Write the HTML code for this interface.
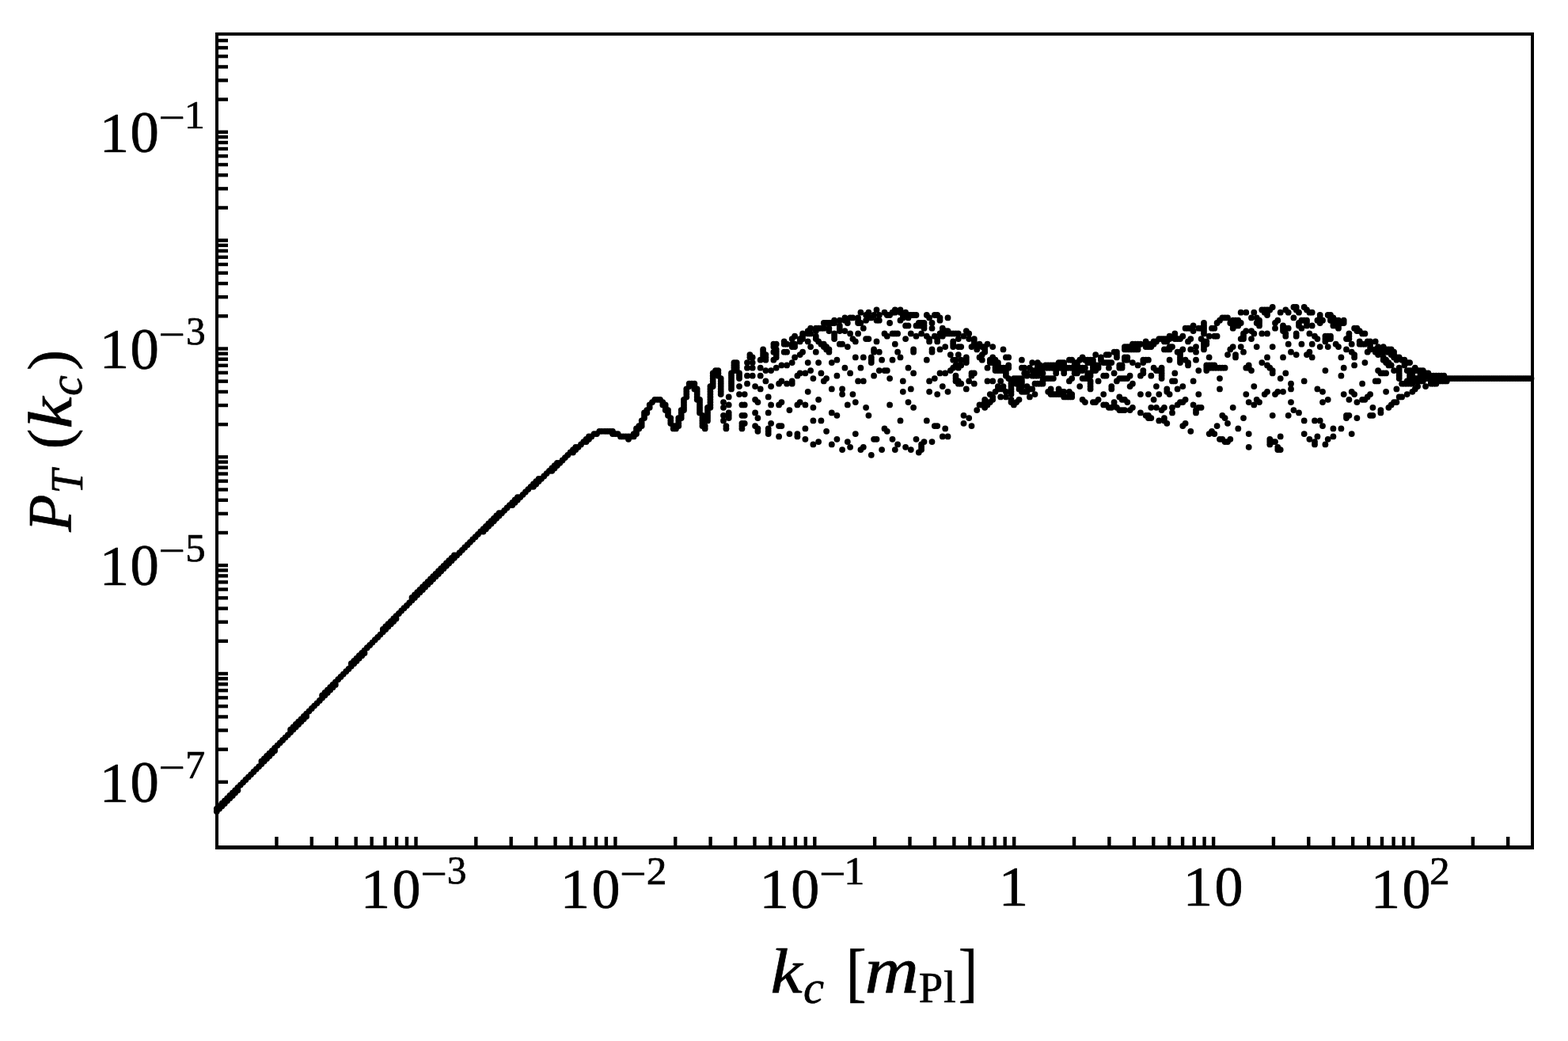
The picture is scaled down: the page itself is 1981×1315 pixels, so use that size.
<!DOCTYPE html>
<html lang="en"><head><meta charset="utf-8"><title>Tensor power spectrum</title>
<style>html,body{margin:0;padding:0;background:#fff}svg{display:block}text{font-family:"Liberation Serif",serif;fill:#000;stroke:#000;stroke-width:0.7px;stroke-linejoin:round}</style></head>
<body><svg xmlns="http://www.w3.org/2000/svg" width="1981" height="1315" viewBox="0 0 1981 1315">
<rect width="1981" height="1315" fill="#fff"/>
<g id="data" fill="#000" stroke="none">
<circle cx="273.8" cy="1021.6" r="3.9"/>
<circle cx="273.8" cy="1025.0" r="3.9"/>
<circle cx="277.1" cy="1018.3" r="3.9"/>
<circle cx="277.1" cy="1021.6" r="3.9"/>
<circle cx="280.4" cy="1015.0" r="3.9"/>
<circle cx="280.4" cy="1018.3" r="3.9"/>
<circle cx="283.8" cy="1011.6" r="3.9"/>
<circle cx="283.8" cy="1015.0" r="3.9"/>
<circle cx="287.1" cy="1008.3" r="3.9"/>
<circle cx="287.1" cy="1011.6" r="3.9"/>
<circle cx="290.4" cy="1005.0" r="3.9"/>
<circle cx="290.4" cy="1008.3" r="3.9"/>
<circle cx="293.8" cy="1001.6" r="3.9"/>
<circle cx="293.8" cy="1005.0" r="3.9"/>
<circle cx="297.1" cy="998.3" r="3.9"/>
<circle cx="297.1" cy="1001.6" r="3.9"/>
<circle cx="300.4" cy="995.0" r="3.9"/>
<circle cx="300.4" cy="998.3" r="3.9"/>
<circle cx="303.8" cy="991.6" r="3.9"/>
<circle cx="307.1" cy="988.3" r="3.9"/>
<circle cx="310.4" cy="985.0" r="3.9"/>
<circle cx="313.8" cy="981.6" r="3.9"/>
<circle cx="317.1" cy="978.3" r="3.9"/>
<circle cx="320.4" cy="975.0" r="3.9"/>
<circle cx="323.8" cy="971.6" r="3.9"/>
<circle cx="327.1" cy="968.3" r="3.9"/>
<circle cx="330.4" cy="961.6" r="3.9"/>
<circle cx="330.4" cy="965.0" r="3.9"/>
<circle cx="333.8" cy="958.3" r="3.9"/>
<circle cx="333.8" cy="961.6" r="3.9"/>
<circle cx="337.1" cy="955.0" r="3.9"/>
<circle cx="337.1" cy="958.3" r="3.9"/>
<circle cx="340.4" cy="951.6" r="3.9"/>
<circle cx="340.4" cy="955.0" r="3.9"/>
<circle cx="343.8" cy="948.3" r="3.9"/>
<circle cx="343.8" cy="951.6" r="3.9"/>
<circle cx="347.1" cy="944.9" r="3.9"/>
<circle cx="347.1" cy="948.3" r="3.9"/>
<circle cx="350.5" cy="941.6" r="3.9"/>
<circle cx="353.8" cy="938.3" r="3.9"/>
<circle cx="357.1" cy="934.9" r="3.9"/>
<circle cx="360.5" cy="931.6" r="3.9"/>
<circle cx="363.8" cy="928.3" r="3.9"/>
<circle cx="367.1" cy="921.6" r="3.9"/>
<circle cx="367.1" cy="924.9" r="3.9"/>
<circle cx="370.5" cy="918.3" r="3.9"/>
<circle cx="370.5" cy="921.6" r="3.9"/>
<circle cx="373.8" cy="914.9" r="3.9"/>
<circle cx="373.8" cy="918.3" r="3.9"/>
<circle cx="377.1" cy="911.6" r="3.9"/>
<circle cx="377.1" cy="914.9" r="3.9"/>
<circle cx="380.5" cy="908.3" r="3.9"/>
<circle cx="380.5" cy="911.6" r="3.9"/>
<circle cx="383.8" cy="904.9" r="3.9"/>
<circle cx="383.8" cy="908.3" r="3.9"/>
<circle cx="387.1" cy="901.6" r="3.9"/>
<circle cx="387.1" cy="904.9" r="3.9"/>
<circle cx="390.5" cy="898.3" r="3.9"/>
<circle cx="393.8" cy="894.9" r="3.9"/>
<circle cx="397.1" cy="891.6" r="3.9"/>
<circle cx="400.5" cy="888.3" r="3.9"/>
<circle cx="403.8" cy="884.9" r="3.9"/>
<circle cx="407.1" cy="878.3" r="3.9"/>
<circle cx="407.1" cy="881.6" r="3.9"/>
<circle cx="410.5" cy="874.9" r="3.9"/>
<circle cx="410.5" cy="878.3" r="3.9"/>
<circle cx="413.8" cy="871.6" r="3.9"/>
<circle cx="413.8" cy="874.9" r="3.9"/>
<circle cx="417.2" cy="868.2" r="3.9"/>
<circle cx="417.2" cy="871.6" r="3.9"/>
<circle cx="420.5" cy="864.9" r="3.9"/>
<circle cx="420.5" cy="868.2" r="3.9"/>
<circle cx="423.8" cy="861.6" r="3.9"/>
<circle cx="423.8" cy="864.9" r="3.9"/>
<circle cx="427.2" cy="858.2" r="3.9"/>
<circle cx="430.5" cy="854.9" r="3.9"/>
<circle cx="433.8" cy="851.6" r="3.9"/>
<circle cx="437.2" cy="848.2" r="3.9"/>
<circle cx="440.5" cy="844.9" r="3.9"/>
<circle cx="443.8" cy="838.2" r="3.9"/>
<circle cx="443.8" cy="841.6" r="3.9"/>
<circle cx="447.2" cy="834.9" r="3.9"/>
<circle cx="447.2" cy="838.2" r="3.9"/>
<circle cx="450.5" cy="831.6" r="3.9"/>
<circle cx="450.5" cy="834.9" r="3.9"/>
<circle cx="453.8" cy="828.2" r="3.9"/>
<circle cx="453.8" cy="831.6" r="3.9"/>
<circle cx="457.2" cy="824.9" r="3.9"/>
<circle cx="457.2" cy="828.2" r="3.9"/>
<circle cx="460.5" cy="821.6" r="3.9"/>
<circle cx="460.5" cy="824.9" r="3.9"/>
<circle cx="463.8" cy="818.2" r="3.9"/>
<circle cx="467.2" cy="814.9" r="3.9"/>
<circle cx="470.5" cy="811.6" r="3.9"/>
<circle cx="473.8" cy="808.2" r="3.9"/>
<circle cx="477.2" cy="804.9" r="3.9"/>
<circle cx="480.5" cy="801.6" r="3.9"/>
<circle cx="483.8" cy="794.9" r="3.9"/>
<circle cx="483.8" cy="798.2" r="3.9"/>
<circle cx="487.2" cy="791.5" r="3.9"/>
<circle cx="487.2" cy="794.9" r="3.9"/>
<circle cx="490.5" cy="788.2" r="3.9"/>
<circle cx="490.5" cy="791.5" r="3.9"/>
<circle cx="493.9" cy="784.9" r="3.9"/>
<circle cx="493.9" cy="788.2" r="3.9"/>
<circle cx="497.2" cy="781.5" r="3.9"/>
<circle cx="497.2" cy="784.9" r="3.9"/>
<circle cx="500.5" cy="778.2" r="3.9"/>
<circle cx="500.5" cy="781.5" r="3.9"/>
<circle cx="503.9" cy="774.9" r="3.9"/>
<circle cx="507.2" cy="771.5" r="3.9"/>
<circle cx="510.5" cy="768.2" r="3.9"/>
<circle cx="513.9" cy="764.9" r="3.9"/>
<circle cx="517.2" cy="761.5" r="3.9"/>
<circle cx="520.5" cy="754.9" r="3.9"/>
<circle cx="520.5" cy="758.2" r="3.9"/>
<circle cx="523.9" cy="751.5" r="3.9"/>
<circle cx="523.9" cy="754.9" r="3.9"/>
<circle cx="527.2" cy="748.2" r="3.9"/>
<circle cx="527.2" cy="751.5" r="3.9"/>
<circle cx="530.5" cy="744.9" r="3.9"/>
<circle cx="530.5" cy="748.2" r="3.9"/>
<circle cx="533.9" cy="741.5" r="3.9"/>
<circle cx="533.9" cy="744.9" r="3.9"/>
<circle cx="537.2" cy="738.2" r="3.9"/>
<circle cx="537.2" cy="741.5" r="3.9"/>
<circle cx="540.5" cy="734.9" r="3.9"/>
<circle cx="540.5" cy="738.2" r="3.9"/>
<circle cx="543.9" cy="731.5" r="3.9"/>
<circle cx="543.9" cy="734.9" r="3.9"/>
<circle cx="547.2" cy="728.2" r="3.9"/>
<circle cx="547.2" cy="731.5" r="3.9"/>
<circle cx="550.5" cy="724.9" r="3.9"/>
<circle cx="550.5" cy="728.2" r="3.9"/>
<circle cx="553.9" cy="721.5" r="3.9"/>
<circle cx="553.9" cy="724.9" r="3.9"/>
<circle cx="557.2" cy="718.2" r="3.9"/>
<circle cx="557.2" cy="721.5" r="3.9"/>
<circle cx="560.5" cy="714.8" r="3.9"/>
<circle cx="560.5" cy="718.2" r="3.9"/>
<circle cx="563.9" cy="711.5" r="3.9"/>
<circle cx="563.9" cy="714.8" r="3.9"/>
<circle cx="567.2" cy="708.2" r="3.9"/>
<circle cx="567.2" cy="711.5" r="3.9"/>
<circle cx="570.6" cy="704.8" r="3.9"/>
<circle cx="570.6" cy="708.2" r="3.9"/>
<circle cx="573.9" cy="701.5" r="3.9"/>
<circle cx="573.9" cy="704.8" r="3.9"/>
<circle cx="577.2" cy="701.5" r="3.9"/>
<circle cx="580.6" cy="698.2" r="3.9"/>
<circle cx="583.9" cy="694.8" r="3.9"/>
<circle cx="587.2" cy="691.5" r="3.9"/>
<circle cx="590.6" cy="688.2" r="3.9"/>
<circle cx="593.9" cy="684.8" r="3.9"/>
<circle cx="597.2" cy="681.5" r="3.9"/>
<circle cx="600.6" cy="678.2" r="3.9"/>
<circle cx="603.9" cy="674.8" r="3.9"/>
<circle cx="607.2" cy="671.5" r="3.9"/>
<circle cx="610.6" cy="668.2" r="3.9"/>
<circle cx="610.6" cy="671.5" r="3.9"/>
<circle cx="613.9" cy="664.8" r="3.9"/>
<circle cx="613.9" cy="668.2" r="3.9"/>
<circle cx="617.2" cy="661.5" r="3.9"/>
<circle cx="617.2" cy="664.8" r="3.9"/>
<circle cx="620.6" cy="658.2" r="3.9"/>
<circle cx="620.6" cy="661.5" r="3.9"/>
<circle cx="623.9" cy="654.8" r="3.9"/>
<circle cx="623.9" cy="658.2" r="3.9"/>
<circle cx="627.2" cy="651.5" r="3.9"/>
<circle cx="627.2" cy="654.8" r="3.9"/>
<circle cx="630.6" cy="648.2" r="3.9"/>
<circle cx="630.6" cy="651.5" r="3.9"/>
<circle cx="633.9" cy="648.2" r="3.9"/>
<circle cx="637.2" cy="644.8" r="3.9"/>
<circle cx="640.6" cy="641.5" r="3.9"/>
<circle cx="643.9" cy="638.1" r="3.9"/>
<circle cx="647.3" cy="634.8" r="3.9"/>
<circle cx="647.3" cy="638.1" r="3.9"/>
<circle cx="650.6" cy="631.5" r="3.9"/>
<circle cx="650.6" cy="634.8" r="3.9"/>
<circle cx="653.9" cy="628.1" r="3.9"/>
<circle cx="653.9" cy="631.5" r="3.9"/>
<circle cx="657.3" cy="628.1" r="3.9"/>
<circle cx="660.6" cy="624.8" r="3.9"/>
<circle cx="663.9" cy="621.5" r="3.9"/>
<circle cx="667.3" cy="618.1" r="3.9"/>
<circle cx="670.6" cy="614.8" r="3.9"/>
<circle cx="673.9" cy="611.5" r="3.9"/>
<circle cx="673.9" cy="614.8" r="3.9"/>
<circle cx="677.3" cy="608.1" r="3.9"/>
<circle cx="677.3" cy="611.5" r="3.9"/>
<circle cx="680.6" cy="604.8" r="3.9"/>
<circle cx="680.6" cy="608.1" r="3.9"/>
<circle cx="683.9" cy="604.8" r="3.9"/>
<circle cx="687.3" cy="601.5" r="3.9"/>
<circle cx="690.6" cy="598.1" r="3.9"/>
<circle cx="693.9" cy="594.8" r="3.9"/>
<circle cx="697.3" cy="591.5" r="3.9"/>
<circle cx="697.3" cy="594.8" r="3.9"/>
<circle cx="700.6" cy="588.1" r="3.9"/>
<circle cx="700.6" cy="591.5" r="3.9"/>
<circle cx="703.9" cy="584.8" r="3.9"/>
<circle cx="703.9" cy="588.1" r="3.9"/>
<circle cx="707.3" cy="584.8" r="3.9"/>
<circle cx="710.6" cy="581.5" r="3.9"/>
<circle cx="713.9" cy="578.1" r="3.9"/>
<circle cx="717.3" cy="574.8" r="3.9"/>
<circle cx="720.6" cy="571.5" r="3.9"/>
<circle cx="724.0" cy="568.1" r="3.9"/>
<circle cx="724.0" cy="571.5" r="3.9"/>
<circle cx="727.3" cy="564.8" r="3.9"/>
<circle cx="727.3" cy="568.1" r="3.9"/>
<circle cx="730.6" cy="564.8" r="3.9"/>
<circle cx="734.0" cy="561.4" r="3.9"/>
<circle cx="737.3" cy="558.1" r="3.9"/>
<circle cx="740.6" cy="554.8" r="3.9"/>
<circle cx="740.6" cy="558.1" r="3.9"/>
<circle cx="744.0" cy="551.4" r="3.9"/>
<circle cx="744.0" cy="554.8" r="3.9"/>
<circle cx="747.3" cy="551.4" r="3.9"/>
<circle cx="750.6" cy="548.1" r="3.9"/>
<circle cx="754.0" cy="548.1" r="3.9"/>
<circle cx="757.3" cy="544.8" r="3.9"/>
<circle cx="760.6" cy="544.8" r="3.9"/>
<circle cx="764.0" cy="544.8" r="3.9"/>
<circle cx="767.3" cy="544.8" r="3.9"/>
<circle cx="770.6" cy="544.8" r="3.9"/>
<circle cx="774.0" cy="544.8" r="3.9"/>
<circle cx="774.0" cy="548.1" r="3.9"/>
<circle cx="777.3" cy="548.1" r="3.9"/>
<circle cx="780.6" cy="548.1" r="3.9"/>
<circle cx="784.0" cy="551.4" r="3.9"/>
<circle cx="787.3" cy="551.4" r="3.9"/>
<circle cx="790.6" cy="551.4" r="3.9"/>
<circle cx="794.0" cy="551.4" r="3.9"/>
<circle cx="794.0" cy="554.8" r="3.9"/>
<circle cx="797.3" cy="551.4" r="3.9"/>
<circle cx="800.7" cy="548.1" r="3.9"/>
<circle cx="800.7" cy="551.4" r="3.9"/>
<circle cx="804.0" cy="541.4" r="3.9"/>
<circle cx="804.0" cy="544.8" r="3.9"/>
<circle cx="804.0" cy="548.1" r="3.9"/>
<circle cx="807.3" cy="538.1" r="3.9"/>
<circle cx="807.3" cy="541.4" r="3.9"/>
<circle cx="810.7" cy="531.4" r="3.9"/>
<circle cx="810.7" cy="534.8" r="3.9"/>
<circle cx="810.7" cy="538.1" r="3.9"/>
<circle cx="814.0" cy="521.4" r="3.9"/>
<circle cx="814.0" cy="524.8" r="3.9"/>
<circle cx="814.0" cy="528.1" r="3.9"/>
<circle cx="817.3" cy="518.1" r="3.9"/>
<circle cx="817.3" cy="521.4" r="3.9"/>
<circle cx="820.7" cy="511.4" r="3.9"/>
<circle cx="820.7" cy="514.8" r="3.9"/>
<circle cx="824.0" cy="508.1" r="3.9"/>
<circle cx="827.3" cy="504.8" r="3.9"/>
<circle cx="830.7" cy="504.8" r="3.9"/>
<circle cx="834.0" cy="504.8" r="3.9"/>
<circle cx="837.3" cy="508.1" r="3.9"/>
<circle cx="837.3" cy="511.4" r="3.9"/>
<circle cx="840.7" cy="511.4" r="3.9"/>
<circle cx="840.7" cy="514.8" r="3.9"/>
<circle cx="840.7" cy="518.1" r="3.9"/>
<circle cx="844.0" cy="518.1" r="3.9"/>
<circle cx="844.0" cy="521.4" r="3.9"/>
<circle cx="844.0" cy="524.8" r="3.9"/>
<circle cx="847.3" cy="528.1" r="3.9"/>
<circle cx="847.3" cy="531.4" r="3.9"/>
<circle cx="847.3" cy="534.8" r="3.9"/>
<circle cx="850.7" cy="538.1" r="3.9"/>
<circle cx="850.7" cy="541.4" r="3.9"/>
<circle cx="854.0" cy="538.1" r="3.9"/>
<circle cx="854.0" cy="541.4" r="3.9"/>
<circle cx="857.3" cy="528.1" r="3.9"/>
<circle cx="857.3" cy="531.4" r="3.9"/>
<circle cx="857.3" cy="534.8" r="3.9"/>
<circle cx="857.3" cy="538.1" r="3.9"/>
<circle cx="860.7" cy="518.1" r="3.9"/>
<circle cx="860.7" cy="521.4" r="3.9"/>
<circle cx="860.7" cy="524.8" r="3.9"/>
<circle cx="860.7" cy="528.1" r="3.9"/>
<circle cx="864.0" cy="504.8" r="3.9"/>
<circle cx="864.0" cy="508.1" r="3.9"/>
<circle cx="864.0" cy="511.4" r="3.9"/>
<circle cx="864.0" cy="514.8" r="3.9"/>
<circle cx="864.0" cy="518.1" r="3.9"/>
<circle cx="867.3" cy="491.4" r="3.9"/>
<circle cx="867.3" cy="494.8" r="3.9"/>
<circle cx="867.3" cy="498.1" r="3.9"/>
<circle cx="867.3" cy="501.4" r="3.9"/>
<circle cx="870.7" cy="484.7" r="3.9"/>
<circle cx="870.7" cy="488.1" r="3.9"/>
<circle cx="874.0" cy="484.7" r="3.9"/>
<circle cx="877.4" cy="484.7" r="3.9"/>
<circle cx="877.4" cy="488.1" r="3.9"/>
<circle cx="877.4" cy="491.4" r="3.9"/>
<circle cx="880.7" cy="491.4" r="3.9"/>
<circle cx="880.7" cy="494.8" r="3.9"/>
<circle cx="880.7" cy="498.1" r="3.9"/>
<circle cx="880.7" cy="501.4" r="3.9"/>
<circle cx="880.7" cy="504.8" r="3.9"/>
<circle cx="884.0" cy="504.8" r="3.9"/>
<circle cx="884.0" cy="508.1" r="3.9"/>
<circle cx="884.0" cy="511.4" r="3.9"/>
<circle cx="884.0" cy="514.8" r="3.9"/>
<circle cx="884.0" cy="518.1" r="3.9"/>
<circle cx="884.0" cy="521.4" r="3.9"/>
<circle cx="887.4" cy="524.8" r="3.9"/>
<circle cx="887.4" cy="528.1" r="3.9"/>
<circle cx="887.4" cy="531.4" r="3.9"/>
<circle cx="887.4" cy="534.8" r="3.9"/>
<circle cx="887.4" cy="538.1" r="3.9"/>
<circle cx="890.7" cy="538.1" r="3.9"/>
<circle cx="890.7" cy="541.4" r="3.9"/>
<circle cx="894.0" cy="514.8" r="3.9"/>
<circle cx="894.0" cy="518.1" r="3.9"/>
<circle cx="894.0" cy="521.4" r="3.9"/>
<circle cx="894.0" cy="524.8" r="3.9"/>
<circle cx="894.0" cy="528.1" r="3.9"/>
<circle cx="894.0" cy="531.4" r="3.9"/>
<circle cx="897.4" cy="488.1" r="3.9"/>
<circle cx="897.4" cy="491.4" r="3.9"/>
<circle cx="897.4" cy="494.8" r="3.9"/>
<circle cx="897.4" cy="498.1" r="3.9"/>
<circle cx="897.4" cy="501.4" r="3.9"/>
<circle cx="897.4" cy="504.8" r="3.9"/>
<circle cx="897.4" cy="508.1" r="3.9"/>
<circle cx="897.4" cy="511.4" r="3.9"/>
<circle cx="897.4" cy="514.8" r="3.9"/>
<circle cx="900.7" cy="471.4" r="3.9"/>
<circle cx="900.7" cy="474.7" r="3.9"/>
<circle cx="900.7" cy="478.1" r="3.9"/>
<circle cx="900.7" cy="481.4" r="3.9"/>
<circle cx="900.7" cy="484.7" r="3.9"/>
<circle cx="900.7" cy="488.1" r="3.9"/>
<circle cx="904.0" cy="468.1" r="3.9"/>
<circle cx="904.0" cy="471.4" r="3.9"/>
<circle cx="907.4" cy="468.1" r="3.9"/>
<circle cx="907.4" cy="471.4" r="3.9"/>
<circle cx="907.4" cy="474.7" r="3.9"/>
<circle cx="910.7" cy="478.1" r="3.9"/>
<circle cx="910.7" cy="481.4" r="3.9"/>
<circle cx="910.7" cy="484.7" r="3.9"/>
<circle cx="910.7" cy="488.1" r="3.9"/>
<circle cx="910.7" cy="491.4" r="3.9"/>
<circle cx="910.7" cy="494.8" r="3.9"/>
<circle cx="910.7" cy="498.1" r="3.9"/>
<circle cx="914.0" cy="508.1" r="3.9"/>
<circle cx="914.0" cy="514.8" r="3.9"/>
<circle cx="914.0" cy="524.8" r="3.9"/>
<circle cx="914.0" cy="531.4" r="3.9"/>
<circle cx="917.4" cy="538.1" r="3.9"/>
<circle cx="917.4" cy="541.4" r="3.9"/>
<circle cx="920.7" cy="501.4" r="3.9"/>
<circle cx="920.7" cy="511.4" r="3.9"/>
<circle cx="920.7" cy="521.4" r="3.9"/>
<circle cx="920.7" cy="524.8" r="3.9"/>
<circle cx="920.7" cy="528.1" r="3.9"/>
<circle cx="924.0" cy="471.4" r="3.9"/>
<circle cx="924.0" cy="474.7" r="3.9"/>
<circle cx="924.0" cy="478.1" r="3.9"/>
<circle cx="924.0" cy="481.4" r="3.9"/>
<circle cx="924.0" cy="484.7" r="3.9"/>
<circle cx="924.0" cy="488.1" r="3.9"/>
<circle cx="924.0" cy="491.4" r="3.9"/>
<circle cx="927.4" cy="458.1" r="3.9"/>
<circle cx="927.4" cy="461.4" r="3.9"/>
<circle cx="927.4" cy="464.7" r="3.9"/>
<circle cx="927.4" cy="468.1" r="3.9"/>
<circle cx="930.7" cy="458.1" r="3.9"/>
<circle cx="930.7" cy="461.4" r="3.9"/>
<circle cx="930.7" cy="464.7" r="3.9"/>
<circle cx="930.7" cy="468.1" r="3.9"/>
<circle cx="934.0" cy="471.4" r="3.9"/>
<circle cx="934.0" cy="474.7" r="3.9"/>
<circle cx="934.0" cy="478.1" r="3.9"/>
<circle cx="934.0" cy="488.1" r="3.9"/>
<circle cx="934.0" cy="498.1" r="3.9"/>
<circle cx="937.4" cy="511.4" r="3.9"/>
<circle cx="937.4" cy="524.8" r="3.9"/>
<circle cx="937.4" cy="534.8" r="3.9"/>
<circle cx="937.4" cy="538.1" r="3.9"/>
<circle cx="937.4" cy="541.4" r="3.9"/>
<circle cx="940.7" cy="498.1" r="3.9"/>
<circle cx="940.7" cy="511.4" r="3.9"/>
<circle cx="940.7" cy="524.8" r="3.9"/>
<circle cx="940.7" cy="534.8" r="3.9"/>
<circle cx="944.0" cy="458.1" r="3.9"/>
<circle cx="944.0" cy="464.7" r="3.9"/>
<circle cx="944.0" cy="474.7" r="3.9"/>
<circle cx="944.0" cy="484.7" r="3.9"/>
<circle cx="947.4" cy="448.1" r="3.9"/>
<circle cx="947.4" cy="451.4" r="3.9"/>
<circle cx="950.7" cy="451.4" r="3.9"/>
<circle cx="950.7" cy="458.1" r="3.9"/>
<circle cx="950.7" cy="464.7" r="3.9"/>
<circle cx="950.7" cy="474.7" r="3.9"/>
<circle cx="954.1" cy="488.1" r="3.9"/>
<circle cx="954.1" cy="504.8" r="3.9"/>
<circle cx="954.1" cy="521.4" r="3.9"/>
<circle cx="954.1" cy="538.1" r="3.9"/>
<circle cx="957.4" cy="508.1" r="3.9"/>
<circle cx="957.4" cy="528.1" r="3.9"/>
<circle cx="957.4" cy="541.4" r="3.9"/>
<circle cx="957.4" cy="544.8" r="3.9"/>
<circle cx="960.7" cy="454.7" r="3.9"/>
<circle cx="960.7" cy="464.7" r="3.9"/>
<circle cx="960.7" cy="474.7" r="3.9"/>
<circle cx="960.7" cy="491.4" r="3.9"/>
<circle cx="964.1" cy="441.4" r="3.9"/>
<circle cx="964.1" cy="444.7" r="3.9"/>
<circle cx="964.1" cy="448.1" r="3.9"/>
<circle cx="964.1" cy="451.4" r="3.9"/>
<circle cx="967.4" cy="448.1" r="3.9"/>
<circle cx="967.4" cy="451.4" r="3.9"/>
<circle cx="967.4" cy="454.7" r="3.9"/>
<circle cx="967.4" cy="468.1" r="3.9"/>
<circle cx="967.4" cy="481.4" r="3.9"/>
<circle cx="970.7" cy="501.4" r="3.9"/>
<circle cx="970.7" cy="521.4" r="3.9"/>
<circle cx="970.7" cy="541.4" r="3.9"/>
<circle cx="970.7" cy="544.8" r="3.9"/>
<circle cx="970.7" cy="548.1" r="3.9"/>
<circle cx="974.1" cy="468.1" r="3.9"/>
<circle cx="974.1" cy="488.1" r="3.9"/>
<circle cx="974.1" cy="511.4" r="3.9"/>
<circle cx="974.1" cy="534.8" r="3.9"/>
<circle cx="977.4" cy="434.7" r="3.9"/>
<circle cx="977.4" cy="438.1" r="3.9"/>
<circle cx="977.4" cy="444.7" r="3.9"/>
<circle cx="977.4" cy="454.7" r="3.9"/>
<circle cx="980.7" cy="434.7" r="3.9"/>
<circle cx="980.7" cy="441.4" r="3.9"/>
<circle cx="980.7" cy="444.7" r="3.9"/>
<circle cx="980.7" cy="448.1" r="3.9"/>
<circle cx="980.7" cy="451.4" r="3.9"/>
<circle cx="980.7" cy="464.7" r="3.9"/>
<circle cx="984.1" cy="484.7" r="3.9"/>
<circle cx="984.1" cy="511.4" r="3.9"/>
<circle cx="984.1" cy="538.1" r="3.9"/>
<circle cx="984.1" cy="551.4" r="3.9"/>
<circle cx="987.4" cy="461.4" r="3.9"/>
<circle cx="987.4" cy="481.4" r="3.9"/>
<circle cx="987.4" cy="508.1" r="3.9"/>
<circle cx="987.4" cy="538.1" r="3.9"/>
<circle cx="990.7" cy="431.4" r="3.9"/>
<circle cx="990.7" cy="434.7" r="3.9"/>
<circle cx="990.7" cy="444.7" r="3.9"/>
<circle cx="994.1" cy="434.7" r="3.9"/>
<circle cx="994.1" cy="444.7" r="3.9"/>
<circle cx="994.1" cy="461.4" r="3.9"/>
<circle cx="994.1" cy="484.7" r="3.9"/>
<circle cx="997.4" cy="518.1" r="3.9"/>
<circle cx="997.4" cy="548.1" r="3.9"/>
<circle cx="1000.7" cy="428.1" r="3.9"/>
<circle cx="1000.7" cy="434.7" r="3.9"/>
<circle cx="1000.7" cy="438.1" r="3.9"/>
<circle cx="1000.7" cy="458.1" r="3.9"/>
<circle cx="1000.7" cy="481.4" r="3.9"/>
<circle cx="1000.7" cy="484.7" r="3.9"/>
<circle cx="1004.1" cy="424.7" r="3.9"/>
<circle cx="1004.1" cy="434.7" r="3.9"/>
<circle cx="1004.1" cy="438.1" r="3.9"/>
<circle cx="1004.1" cy="451.4" r="3.9"/>
<circle cx="1007.4" cy="474.7" r="3.9"/>
<circle cx="1007.4" cy="511.4" r="3.9"/>
<circle cx="1007.4" cy="548.1" r="3.9"/>
<circle cx="1007.4" cy="551.4" r="3.9"/>
<circle cx="1010.7" cy="428.1" r="3.9"/>
<circle cx="1010.7" cy="431.4" r="3.9"/>
<circle cx="1010.7" cy="448.1" r="3.9"/>
<circle cx="1010.7" cy="471.4" r="3.9"/>
<circle cx="1010.7" cy="508.1" r="3.9"/>
<circle cx="1014.1" cy="421.4" r="3.9"/>
<circle cx="1014.1" cy="424.7" r="3.9"/>
<circle cx="1014.1" cy="428.1" r="3.9"/>
<circle cx="1014.1" cy="444.7" r="3.9"/>
<circle cx="1017.4" cy="471.4" r="3.9"/>
<circle cx="1017.4" cy="511.4" r="3.9"/>
<circle cx="1017.4" cy="541.4" r="3.9"/>
<circle cx="1017.4" cy="554.8" r="3.9"/>
<circle cx="1020.7" cy="418.1" r="3.9"/>
<circle cx="1020.7" cy="421.4" r="3.9"/>
<circle cx="1020.7" cy="431.4" r="3.9"/>
<circle cx="1020.7" cy="458.1" r="3.9"/>
<circle cx="1020.7" cy="494.8" r="3.9"/>
<circle cx="1024.1" cy="414.7" r="3.9"/>
<circle cx="1024.1" cy="421.4" r="3.9"/>
<circle cx="1024.1" cy="438.1" r="3.9"/>
<circle cx="1024.1" cy="468.1" r="3.9"/>
<circle cx="1027.4" cy="478.1" r="3.9"/>
<circle cx="1027.4" cy="514.8" r="3.9"/>
<circle cx="1027.4" cy="531.4" r="3.9"/>
<circle cx="1027.4" cy="561.4" r="3.9"/>
<circle cx="1030.8" cy="414.7" r="3.9"/>
<circle cx="1030.8" cy="418.1" r="3.9"/>
<circle cx="1030.8" cy="424.7" r="3.9"/>
<circle cx="1030.8" cy="428.1" r="3.9"/>
<circle cx="1030.8" cy="444.7" r="3.9"/>
<circle cx="1034.1" cy="414.7" r="3.9"/>
<circle cx="1034.1" cy="431.4" r="3.9"/>
<circle cx="1034.1" cy="458.1" r="3.9"/>
<circle cx="1034.1" cy="504.8" r="3.9"/>
<circle cx="1034.1" cy="558.1" r="3.9"/>
<circle cx="1037.4" cy="414.7" r="3.9"/>
<circle cx="1037.4" cy="434.7" r="3.9"/>
<circle cx="1037.4" cy="471.4" r="3.9"/>
<circle cx="1037.4" cy="531.4" r="3.9"/>
<circle cx="1040.8" cy="408.0" r="3.9"/>
<circle cx="1040.8" cy="414.7" r="3.9"/>
<circle cx="1040.8" cy="434.7" r="3.9"/>
<circle cx="1040.8" cy="438.1" r="3.9"/>
<circle cx="1040.8" cy="481.4" r="3.9"/>
<circle cx="1044.1" cy="408.0" r="3.9"/>
<circle cx="1044.1" cy="438.1" r="3.9"/>
<circle cx="1044.1" cy="441.4" r="3.9"/>
<circle cx="1044.1" cy="478.1" r="3.9"/>
<circle cx="1044.1" cy="544.8" r="3.9"/>
<circle cx="1047.4" cy="408.0" r="3.9"/>
<circle cx="1047.4" cy="414.7" r="3.9"/>
<circle cx="1047.4" cy="418.1" r="3.9"/>
<circle cx="1047.4" cy="441.4" r="3.9"/>
<circle cx="1047.4" cy="444.7" r="3.9"/>
<circle cx="1050.8" cy="408.0" r="3.9"/>
<circle cx="1050.8" cy="458.1" r="3.9"/>
<circle cx="1050.8" cy="491.4" r="3.9"/>
<circle cx="1050.8" cy="521.4" r="3.9"/>
<circle cx="1050.8" cy="561.4" r="3.9"/>
<circle cx="1054.1" cy="404.7" r="3.9"/>
<circle cx="1054.1" cy="408.0" r="3.9"/>
<circle cx="1054.1" cy="421.4" r="3.9"/>
<circle cx="1054.1" cy="424.7" r="3.9"/>
<circle cx="1054.1" cy="428.1" r="3.9"/>
<circle cx="1057.4" cy="454.7" r="3.9"/>
<circle cx="1057.4" cy="474.7" r="3.9"/>
<circle cx="1057.4" cy="524.8" r="3.9"/>
<circle cx="1057.4" cy="554.8" r="3.9"/>
<circle cx="1060.8" cy="404.7" r="3.9"/>
<circle cx="1060.8" cy="411.4" r="3.9"/>
<circle cx="1060.8" cy="414.7" r="3.9"/>
<circle cx="1060.8" cy="418.1" r="3.9"/>
<circle cx="1060.8" cy="434.7" r="3.9"/>
<circle cx="1064.1" cy="434.7" r="3.9"/>
<circle cx="1064.1" cy="491.4" r="3.9"/>
<circle cx="1064.1" cy="498.1" r="3.9"/>
<circle cx="1064.1" cy="568.1" r="3.9"/>
<circle cx="1067.4" cy="401.4" r="3.9"/>
<circle cx="1067.4" cy="404.7" r="3.9"/>
<circle cx="1067.4" cy="418.1" r="3.9"/>
<circle cx="1067.4" cy="464.7" r="3.9"/>
<circle cx="1070.8" cy="408.0" r="3.9"/>
<circle cx="1070.8" cy="438.1" r="3.9"/>
<circle cx="1070.8" cy="511.4" r="3.9"/>
<circle cx="1070.8" cy="558.1" r="3.9"/>
<circle cx="1074.1" cy="401.4" r="3.9"/>
<circle cx="1074.1" cy="421.4" r="3.9"/>
<circle cx="1074.1" cy="471.4" r="3.9"/>
<circle cx="1074.1" cy="564.8" r="3.9"/>
<circle cx="1077.4" cy="401.4" r="3.9"/>
<circle cx="1077.4" cy="428.1" r="3.9"/>
<circle cx="1077.4" cy="498.1" r="3.9"/>
<circle cx="1080.8" cy="431.4" r="3.9"/>
<circle cx="1080.8" cy="451.4" r="3.9"/>
<circle cx="1080.8" cy="508.1" r="3.9"/>
<circle cx="1080.8" cy="548.1" r="3.9"/>
<circle cx="1084.1" cy="401.4" r="3.9"/>
<circle cx="1084.1" cy="404.7" r="3.9"/>
<circle cx="1084.1" cy="408.0" r="3.9"/>
<circle cx="1084.1" cy="421.4" r="3.9"/>
<circle cx="1084.1" cy="481.4" r="3.9"/>
<circle cx="1087.4" cy="394.7" r="3.9"/>
<circle cx="1087.4" cy="408.0" r="3.9"/>
<circle cx="1087.4" cy="464.7" r="3.9"/>
<circle cx="1087.4" cy="568.1" r="3.9"/>
<circle cx="1090.8" cy="414.7" r="3.9"/>
<circle cx="1090.8" cy="451.4" r="3.9"/>
<circle cx="1090.8" cy="481.4" r="3.9"/>
<circle cx="1090.8" cy="564.8" r="3.9"/>
<circle cx="1094.1" cy="398.0" r="3.9"/>
<circle cx="1094.1" cy="404.7" r="3.9"/>
<circle cx="1094.1" cy="428.1" r="3.9"/>
<circle cx="1094.1" cy="514.8" r="3.9"/>
<circle cx="1097.4" cy="394.7" r="3.9"/>
<circle cx="1097.4" cy="401.4" r="3.9"/>
<circle cx="1097.4" cy="428.1" r="3.9"/>
<circle cx="1097.4" cy="524.8" r="3.9"/>
<circle cx="1100.8" cy="401.4" r="3.9"/>
<circle cx="1100.8" cy="451.4" r="3.9"/>
<circle cx="1100.8" cy="454.7" r="3.9"/>
<circle cx="1100.8" cy="458.1" r="3.9"/>
<circle cx="1100.8" cy="574.8" r="3.9"/>
<circle cx="1104.1" cy="398.0" r="3.9"/>
<circle cx="1104.1" cy="441.4" r="3.9"/>
<circle cx="1104.1" cy="444.7" r="3.9"/>
<circle cx="1104.1" cy="474.7" r="3.9"/>
<circle cx="1104.1" cy="554.8" r="3.9"/>
<circle cx="1107.5" cy="391.4" r="3.9"/>
<circle cx="1107.5" cy="404.7" r="3.9"/>
<circle cx="1107.5" cy="431.4" r="3.9"/>
<circle cx="1107.5" cy="554.8" r="3.9"/>
<circle cx="1110.8" cy="398.0" r="3.9"/>
<circle cx="1110.8" cy="404.7" r="3.9"/>
<circle cx="1110.8" cy="444.7" r="3.9"/>
<circle cx="1110.8" cy="468.1" r="3.9"/>
<circle cx="1114.1" cy="454.7" r="3.9"/>
<circle cx="1114.1" cy="568.1" r="3.9"/>
<circle cx="1117.5" cy="394.7" r="3.9"/>
<circle cx="1117.5" cy="421.4" r="3.9"/>
<circle cx="1117.5" cy="468.1" r="3.9"/>
<circle cx="1117.5" cy="541.4" r="3.9"/>
<circle cx="1120.8" cy="398.0" r="3.9"/>
<circle cx="1120.8" cy="424.7" r="3.9"/>
<circle cx="1120.8" cy="468.1" r="3.9"/>
<circle cx="1120.8" cy="544.8" r="3.9"/>
<circle cx="1124.1" cy="398.0" r="3.9"/>
<circle cx="1124.1" cy="408.0" r="3.9"/>
<circle cx="1124.1" cy="478.1" r="3.9"/>
<circle cx="1124.1" cy="511.4" r="3.9"/>
<circle cx="1127.5" cy="394.7" r="3.9"/>
<circle cx="1127.5" cy="421.4" r="3.9"/>
<circle cx="1127.5" cy="454.7" r="3.9"/>
<circle cx="1127.5" cy="554.8" r="3.9"/>
<circle cx="1130.8" cy="391.4" r="3.9"/>
<circle cx="1130.8" cy="394.7" r="3.9"/>
<circle cx="1130.8" cy="421.4" r="3.9"/>
<circle cx="1130.8" cy="434.7" r="3.9"/>
<circle cx="1130.8" cy="568.1" r="3.9"/>
<circle cx="1134.1" cy="421.4" r="3.9"/>
<circle cx="1134.1" cy="444.7" r="3.9"/>
<circle cx="1134.1" cy="561.4" r="3.9"/>
<circle cx="1137.5" cy="391.4" r="3.9"/>
<circle cx="1137.5" cy="394.7" r="3.9"/>
<circle cx="1137.5" cy="404.7" r="3.9"/>
<circle cx="1137.5" cy="451.4" r="3.9"/>
<circle cx="1137.5" cy="531.4" r="3.9"/>
<circle cx="1140.8" cy="398.0" r="3.9"/>
<circle cx="1140.8" cy="401.4" r="3.9"/>
<circle cx="1140.8" cy="481.4" r="3.9"/>
<circle cx="1140.8" cy="494.8" r="3.9"/>
<circle cx="1144.1" cy="394.7" r="3.9"/>
<circle cx="1144.1" cy="411.4" r="3.9"/>
<circle cx="1144.1" cy="428.1" r="3.9"/>
<circle cx="1144.1" cy="564.8" r="3.9"/>
<circle cx="1147.5" cy="398.0" r="3.9"/>
<circle cx="1147.5" cy="401.4" r="3.9"/>
<circle cx="1147.5" cy="411.4" r="3.9"/>
<circle cx="1147.5" cy="464.7" r="3.9"/>
<circle cx="1147.5" cy="508.1" r="3.9"/>
<circle cx="1150.8" cy="398.0" r="3.9"/>
<circle cx="1150.8" cy="421.4" r="3.9"/>
<circle cx="1150.8" cy="491.4" r="3.9"/>
<circle cx="1150.8" cy="568.1" r="3.9"/>
<circle cx="1154.1" cy="398.0" r="3.9"/>
<circle cx="1154.1" cy="441.4" r="3.9"/>
<circle cx="1154.1" cy="444.7" r="3.9"/>
<circle cx="1154.1" cy="471.4" r="3.9"/>
<circle cx="1154.1" cy="514.8" r="3.9"/>
<circle cx="1157.5" cy="398.0" r="3.9"/>
<circle cx="1157.5" cy="411.4" r="3.9"/>
<circle cx="1157.5" cy="424.7" r="3.9"/>
<circle cx="1157.5" cy="554.8" r="3.9"/>
<circle cx="1160.8" cy="408.0" r="3.9"/>
<circle cx="1160.8" cy="411.4" r="3.9"/>
<circle cx="1160.8" cy="571.5" r="3.9"/>
<circle cx="1164.1" cy="408.0" r="3.9"/>
<circle cx="1164.1" cy="411.4" r="3.9"/>
<circle cx="1164.1" cy="421.4" r="3.9"/>
<circle cx="1164.1" cy="561.4" r="3.9"/>
<circle cx="1164.1" cy="564.8" r="3.9"/>
<circle cx="1164.1" cy="568.1" r="3.9"/>
<circle cx="1167.5" cy="408.0" r="3.9"/>
<circle cx="1167.5" cy="411.4" r="3.9"/>
<circle cx="1167.5" cy="414.7" r="3.9"/>
<circle cx="1167.5" cy="558.1" r="3.9"/>
<circle cx="1170.8" cy="398.0" r="3.9"/>
<circle cx="1170.8" cy="424.7" r="3.9"/>
<circle cx="1170.8" cy="454.7" r="3.9"/>
<circle cx="1170.8" cy="531.4" r="3.9"/>
<circle cx="1174.1" cy="401.4" r="3.9"/>
<circle cx="1174.1" cy="428.1" r="3.9"/>
<circle cx="1174.1" cy="431.4" r="3.9"/>
<circle cx="1174.1" cy="481.4" r="3.9"/>
<circle cx="1174.1" cy="494.8" r="3.9"/>
<circle cx="1177.5" cy="408.0" r="3.9"/>
<circle cx="1177.5" cy="414.7" r="3.9"/>
<circle cx="1177.5" cy="441.4" r="3.9"/>
<circle cx="1177.5" cy="444.7" r="3.9"/>
<circle cx="1177.5" cy="558.1" r="3.9"/>
<circle cx="1180.8" cy="398.0" r="3.9"/>
<circle cx="1180.8" cy="424.7" r="3.9"/>
<circle cx="1180.8" cy="478.1" r="3.9"/>
<circle cx="1180.8" cy="538.1" r="3.9"/>
<circle cx="1184.2" cy="398.0" r="3.9"/>
<circle cx="1184.2" cy="428.1" r="3.9"/>
<circle cx="1184.2" cy="431.4" r="3.9"/>
<circle cx="1184.2" cy="498.1" r="3.9"/>
<circle cx="1184.2" cy="538.1" r="3.9"/>
<circle cx="1187.5" cy="401.4" r="3.9"/>
<circle cx="1187.5" cy="404.7" r="3.9"/>
<circle cx="1187.5" cy="421.4" r="3.9"/>
<circle cx="1187.5" cy="441.4" r="3.9"/>
<circle cx="1187.5" cy="471.4" r="3.9"/>
<circle cx="1190.8" cy="414.7" r="3.9"/>
<circle cx="1190.8" cy="418.1" r="3.9"/>
<circle cx="1190.8" cy="421.4" r="3.9"/>
<circle cx="1190.8" cy="424.7" r="3.9"/>
<circle cx="1190.8" cy="488.1" r="3.9"/>
<circle cx="1190.8" cy="551.4" r="3.9"/>
<circle cx="1194.2" cy="418.1" r="3.9"/>
<circle cx="1194.2" cy="421.4" r="3.9"/>
<circle cx="1194.2" cy="438.1" r="3.9"/>
<circle cx="1194.2" cy="471.4" r="3.9"/>
<circle cx="1194.2" cy="541.4" r="3.9"/>
<circle cx="1197.5" cy="401.4" r="3.9"/>
<circle cx="1197.5" cy="418.1" r="3.9"/>
<circle cx="1197.5" cy="421.4" r="3.9"/>
<circle cx="1197.5" cy="494.8" r="3.9"/>
<circle cx="1197.5" cy="551.4" r="3.9"/>
<circle cx="1200.8" cy="421.4" r="3.9"/>
<circle cx="1200.8" cy="448.1" r="3.9"/>
<circle cx="1200.8" cy="468.1" r="3.9"/>
<circle cx="1204.2" cy="421.4" r="3.9"/>
<circle cx="1204.2" cy="431.4" r="3.9"/>
<circle cx="1204.2" cy="434.7" r="3.9"/>
<circle cx="1204.2" cy="438.1" r="3.9"/>
<circle cx="1204.2" cy="454.7" r="3.9"/>
<circle cx="1204.2" cy="464.7" r="3.9"/>
<circle cx="1207.5" cy="421.4" r="3.9"/>
<circle cx="1207.5" cy="454.7" r="3.9"/>
<circle cx="1207.5" cy="461.4" r="3.9"/>
<circle cx="1207.5" cy="474.7" r="3.9"/>
<circle cx="1207.5" cy="478.1" r="3.9"/>
<circle cx="1207.5" cy="481.4" r="3.9"/>
<circle cx="1210.8" cy="421.4" r="3.9"/>
<circle cx="1210.8" cy="428.1" r="3.9"/>
<circle cx="1210.8" cy="438.1" r="3.9"/>
<circle cx="1210.8" cy="448.1" r="3.9"/>
<circle cx="1210.8" cy="461.4" r="3.9"/>
<circle cx="1210.8" cy="464.7" r="3.9"/>
<circle cx="1210.8" cy="481.4" r="3.9"/>
<circle cx="1210.8" cy="484.7" r="3.9"/>
<circle cx="1214.2" cy="438.1" r="3.9"/>
<circle cx="1214.2" cy="454.7" r="3.9"/>
<circle cx="1214.2" cy="461.4" r="3.9"/>
<circle cx="1214.2" cy="484.7" r="3.9"/>
<circle cx="1217.5" cy="424.7" r="3.9"/>
<circle cx="1217.5" cy="524.8" r="3.9"/>
<circle cx="1217.5" cy="534.8" r="3.9"/>
<circle cx="1220.8" cy="418.1" r="3.9"/>
<circle cx="1220.8" cy="451.4" r="3.9"/>
<circle cx="1220.8" cy="454.7" r="3.9"/>
<circle cx="1220.8" cy="458.1" r="3.9"/>
<circle cx="1220.8" cy="491.4" r="3.9"/>
<circle cx="1224.2" cy="421.4" r="3.9"/>
<circle cx="1224.2" cy="428.1" r="3.9"/>
<circle cx="1224.2" cy="481.4" r="3.9"/>
<circle cx="1224.2" cy="528.1" r="3.9"/>
<circle cx="1227.5" cy="438.1" r="3.9"/>
<circle cx="1227.5" cy="471.4" r="3.9"/>
<circle cx="1227.5" cy="474.7" r="3.9"/>
<circle cx="1227.5" cy="538.1" r="3.9"/>
<circle cx="1230.8" cy="428.1" r="3.9"/>
<circle cx="1230.8" cy="431.4" r="3.9"/>
<circle cx="1230.8" cy="434.7" r="3.9"/>
<circle cx="1230.8" cy="471.4" r="3.9"/>
<circle cx="1230.8" cy="484.7" r="3.9"/>
<circle cx="1234.2" cy="438.1" r="3.9"/>
<circle cx="1234.2" cy="441.4" r="3.9"/>
<circle cx="1234.2" cy="518.1" r="3.9"/>
<circle cx="1237.5" cy="434.7" r="3.9"/>
<circle cx="1237.5" cy="451.4" r="3.9"/>
<circle cx="1237.5" cy="511.4" r="3.9"/>
<circle cx="1240.8" cy="438.1" r="3.9"/>
<circle cx="1240.8" cy="448.1" r="3.9"/>
<circle cx="1240.8" cy="454.7" r="3.9"/>
<circle cx="1240.8" cy="511.4" r="3.9"/>
<circle cx="1244.2" cy="438.1" r="3.9"/>
<circle cx="1244.2" cy="441.4" r="3.9"/>
<circle cx="1244.2" cy="444.7" r="3.9"/>
<circle cx="1244.2" cy="504.8" r="3.9"/>
<circle cx="1244.2" cy="508.1" r="3.9"/>
<circle cx="1244.2" cy="511.4" r="3.9"/>
<circle cx="1244.2" cy="514.8" r="3.9"/>
<circle cx="1247.5" cy="434.7" r="3.9"/>
<circle cx="1247.5" cy="464.7" r="3.9"/>
<circle cx="1247.5" cy="481.4" r="3.9"/>
<circle cx="1247.5" cy="508.1" r="3.9"/>
<circle cx="1247.5" cy="511.4" r="3.9"/>
<circle cx="1250.8" cy="454.7" r="3.9"/>
<circle cx="1250.8" cy="458.1" r="3.9"/>
<circle cx="1250.8" cy="498.1" r="3.9"/>
<circle cx="1250.8" cy="508.1" r="3.9"/>
<circle cx="1254.2" cy="438.1" r="3.9"/>
<circle cx="1254.2" cy="451.4" r="3.9"/>
<circle cx="1254.2" cy="458.1" r="3.9"/>
<circle cx="1254.2" cy="481.4" r="3.9"/>
<circle cx="1254.2" cy="501.4" r="3.9"/>
<circle cx="1254.2" cy="504.8" r="3.9"/>
<circle cx="1257.5" cy="454.7" r="3.9"/>
<circle cx="1257.5" cy="461.4" r="3.9"/>
<circle cx="1257.5" cy="464.7" r="3.9"/>
<circle cx="1257.5" cy="468.1" r="3.9"/>
<circle cx="1257.5" cy="494.8" r="3.9"/>
<circle cx="1260.9" cy="458.1" r="3.9"/>
<circle cx="1260.9" cy="461.4" r="3.9"/>
<circle cx="1260.9" cy="464.7" r="3.9"/>
<circle cx="1260.9" cy="468.1" r="3.9"/>
<circle cx="1260.9" cy="488.1" r="3.9"/>
<circle cx="1260.9" cy="491.4" r="3.9"/>
<circle cx="1264.2" cy="464.7" r="3.9"/>
<circle cx="1264.2" cy="468.1" r="3.9"/>
<circle cx="1264.2" cy="481.4" r="3.9"/>
<circle cx="1264.2" cy="491.4" r="3.9"/>
<circle cx="1264.2" cy="501.4" r="3.9"/>
<circle cx="1267.5" cy="441.4" r="3.9"/>
<circle cx="1267.5" cy="464.7" r="3.9"/>
<circle cx="1267.5" cy="468.1" r="3.9"/>
<circle cx="1267.5" cy="488.1" r="3.9"/>
<circle cx="1267.5" cy="491.4" r="3.9"/>
<circle cx="1270.9" cy="451.4" r="3.9"/>
<circle cx="1270.9" cy="464.7" r="3.9"/>
<circle cx="1270.9" cy="468.1" r="3.9"/>
<circle cx="1270.9" cy="471.4" r="3.9"/>
<circle cx="1270.9" cy="474.7" r="3.9"/>
<circle cx="1270.9" cy="494.8" r="3.9"/>
<circle cx="1270.9" cy="501.4" r="3.9"/>
<circle cx="1274.2" cy="451.4" r="3.9"/>
<circle cx="1274.2" cy="461.4" r="3.9"/>
<circle cx="1274.2" cy="464.7" r="3.9"/>
<circle cx="1274.2" cy="478.1" r="3.9"/>
<circle cx="1277.5" cy="481.4" r="3.9"/>
<circle cx="1277.5" cy="484.7" r="3.9"/>
<circle cx="1277.5" cy="488.1" r="3.9"/>
<circle cx="1277.5" cy="491.4" r="3.9"/>
<circle cx="1277.5" cy="494.8" r="3.9"/>
<circle cx="1277.5" cy="498.1" r="3.9"/>
<circle cx="1277.5" cy="504.8" r="3.9"/>
<circle cx="1277.5" cy="508.1" r="3.9"/>
<circle cx="1280.9" cy="478.1" r="3.9"/>
<circle cx="1280.9" cy="481.4" r="3.9"/>
<circle cx="1280.9" cy="511.4" r="3.9"/>
<circle cx="1284.2" cy="478.1" r="3.9"/>
<circle cx="1284.2" cy="481.4" r="3.9"/>
<circle cx="1284.2" cy="484.7" r="3.9"/>
<circle cx="1284.2" cy="508.1" r="3.9"/>
<circle cx="1287.5" cy="478.1" r="3.9"/>
<circle cx="1287.5" cy="481.4" r="3.9"/>
<circle cx="1287.5" cy="484.7" r="3.9"/>
<circle cx="1287.5" cy="488.1" r="3.9"/>
<circle cx="1287.5" cy="491.4" r="3.9"/>
<circle cx="1287.5" cy="504.8" r="3.9"/>
<circle cx="1290.9" cy="454.7" r="3.9"/>
<circle cx="1290.9" cy="464.7" r="3.9"/>
<circle cx="1290.9" cy="478.1" r="3.9"/>
<circle cx="1290.9" cy="481.4" r="3.9"/>
<circle cx="1290.9" cy="484.7" r="3.9"/>
<circle cx="1290.9" cy="488.1" r="3.9"/>
<circle cx="1290.9" cy="494.8" r="3.9"/>
<circle cx="1294.2" cy="464.7" r="3.9"/>
<circle cx="1294.2" cy="471.4" r="3.9"/>
<circle cx="1294.2" cy="494.8" r="3.9"/>
<circle cx="1297.5" cy="471.4" r="3.9"/>
<circle cx="1297.5" cy="474.7" r="3.9"/>
<circle cx="1297.5" cy="488.1" r="3.9"/>
<circle cx="1297.5" cy="494.8" r="3.9"/>
<circle cx="1300.9" cy="464.7" r="3.9"/>
<circle cx="1300.9" cy="491.4" r="3.9"/>
<circle cx="1300.9" cy="501.4" r="3.9"/>
<circle cx="1304.2" cy="458.1" r="3.9"/>
<circle cx="1304.2" cy="468.1" r="3.9"/>
<circle cx="1304.2" cy="474.7" r="3.9"/>
<circle cx="1304.2" cy="491.4" r="3.9"/>
<circle cx="1307.5" cy="468.1" r="3.9"/>
<circle cx="1307.5" cy="471.4" r="3.9"/>
<circle cx="1307.5" cy="474.7" r="3.9"/>
<circle cx="1307.5" cy="484.7" r="3.9"/>
<circle cx="1307.5" cy="498.1" r="3.9"/>
<circle cx="1310.9" cy="458.1" r="3.9"/>
<circle cx="1310.9" cy="461.4" r="3.9"/>
<circle cx="1310.9" cy="464.7" r="3.9"/>
<circle cx="1310.9" cy="468.1" r="3.9"/>
<circle cx="1310.9" cy="471.4" r="3.9"/>
<circle cx="1310.9" cy="474.7" r="3.9"/>
<circle cx="1310.9" cy="484.7" r="3.9"/>
<circle cx="1314.2" cy="461.4" r="3.9"/>
<circle cx="1314.2" cy="468.1" r="3.9"/>
<circle cx="1314.2" cy="471.4" r="3.9"/>
<circle cx="1314.2" cy="484.7" r="3.9"/>
<circle cx="1317.5" cy="464.7" r="3.9"/>
<circle cx="1317.5" cy="471.4" r="3.9"/>
<circle cx="1317.5" cy="478.1" r="3.9"/>
<circle cx="1317.5" cy="481.4" r="3.9"/>
<circle cx="1317.5" cy="484.7" r="3.9"/>
<circle cx="1320.9" cy="461.4" r="3.9"/>
<circle cx="1320.9" cy="464.7" r="3.9"/>
<circle cx="1320.9" cy="478.1" r="3.9"/>
<circle cx="1324.2" cy="461.4" r="3.9"/>
<circle cx="1324.2" cy="464.7" r="3.9"/>
<circle cx="1324.2" cy="478.1" r="3.9"/>
<circle cx="1324.2" cy="494.8" r="3.9"/>
<circle cx="1327.6" cy="461.4" r="3.9"/>
<circle cx="1327.6" cy="464.7" r="3.9"/>
<circle cx="1327.6" cy="478.1" r="3.9"/>
<circle cx="1327.6" cy="491.4" r="3.9"/>
<circle cx="1327.6" cy="494.8" r="3.9"/>
<circle cx="1327.6" cy="498.1" r="3.9"/>
<circle cx="1330.9" cy="461.4" r="3.9"/>
<circle cx="1330.9" cy="464.7" r="3.9"/>
<circle cx="1330.9" cy="478.1" r="3.9"/>
<circle cx="1330.9" cy="498.1" r="3.9"/>
<circle cx="1334.2" cy="461.4" r="3.9"/>
<circle cx="1334.2" cy="464.7" r="3.9"/>
<circle cx="1334.2" cy="468.1" r="3.9"/>
<circle cx="1334.2" cy="471.4" r="3.9"/>
<circle cx="1334.2" cy="498.1" r="3.9"/>
<circle cx="1337.6" cy="458.1" r="3.9"/>
<circle cx="1337.6" cy="461.4" r="3.9"/>
<circle cx="1337.6" cy="464.7" r="3.9"/>
<circle cx="1337.6" cy="491.4" r="3.9"/>
<circle cx="1337.6" cy="494.8" r="3.9"/>
<circle cx="1337.6" cy="498.1" r="3.9"/>
<circle cx="1340.9" cy="458.1" r="3.9"/>
<circle cx="1340.9" cy="461.4" r="3.9"/>
<circle cx="1340.9" cy="464.7" r="3.9"/>
<circle cx="1340.9" cy="494.8" r="3.9"/>
<circle cx="1340.9" cy="498.1" r="3.9"/>
<circle cx="1344.2" cy="458.1" r="3.9"/>
<circle cx="1344.2" cy="461.4" r="3.9"/>
<circle cx="1344.2" cy="464.7" r="3.9"/>
<circle cx="1344.2" cy="468.1" r="3.9"/>
<circle cx="1344.2" cy="471.4" r="3.9"/>
<circle cx="1344.2" cy="494.8" r="3.9"/>
<circle cx="1344.2" cy="501.4" r="3.9"/>
<circle cx="1347.6" cy="464.7" r="3.9"/>
<circle cx="1347.6" cy="501.4" r="3.9"/>
<circle cx="1350.9" cy="454.7" r="3.9"/>
<circle cx="1350.9" cy="464.7" r="3.9"/>
<circle cx="1350.9" cy="481.4" r="3.9"/>
<circle cx="1350.9" cy="494.8" r="3.9"/>
<circle cx="1350.9" cy="501.4" r="3.9"/>
<circle cx="1354.2" cy="454.7" r="3.9"/>
<circle cx="1354.2" cy="464.7" r="3.9"/>
<circle cx="1354.2" cy="478.1" r="3.9"/>
<circle cx="1354.2" cy="498.1" r="3.9"/>
<circle cx="1354.2" cy="501.4" r="3.9"/>
<circle cx="1357.6" cy="458.1" r="3.9"/>
<circle cx="1357.6" cy="461.4" r="3.9"/>
<circle cx="1357.6" cy="464.7" r="3.9"/>
<circle cx="1357.6" cy="468.1" r="3.9"/>
<circle cx="1357.6" cy="471.4" r="3.9"/>
<circle cx="1360.9" cy="458.1" r="3.9"/>
<circle cx="1360.9" cy="461.4" r="3.9"/>
<circle cx="1360.9" cy="464.7" r="3.9"/>
<circle cx="1360.9" cy="468.1" r="3.9"/>
<circle cx="1360.9" cy="471.4" r="3.9"/>
<circle cx="1364.2" cy="454.7" r="3.9"/>
<circle cx="1364.2" cy="464.7" r="3.9"/>
<circle cx="1364.2" cy="468.1" r="3.9"/>
<circle cx="1364.2" cy="488.1" r="3.9"/>
<circle cx="1367.6" cy="451.4" r="3.9"/>
<circle cx="1367.6" cy="464.7" r="3.9"/>
<circle cx="1367.6" cy="468.1" r="3.9"/>
<circle cx="1367.6" cy="478.1" r="3.9"/>
<circle cx="1367.6" cy="504.8" r="3.9"/>
<circle cx="1370.9" cy="454.7" r="3.9"/>
<circle cx="1370.9" cy="464.7" r="3.9"/>
<circle cx="1370.9" cy="478.1" r="3.9"/>
<circle cx="1370.9" cy="508.1" r="3.9"/>
<circle cx="1374.2" cy="454.7" r="3.9"/>
<circle cx="1374.2" cy="458.1" r="3.9"/>
<circle cx="1374.2" cy="471.4" r="3.9"/>
<circle cx="1374.2" cy="474.7" r="3.9"/>
<circle cx="1374.2" cy="478.1" r="3.9"/>
<circle cx="1377.6" cy="454.7" r="3.9"/>
<circle cx="1377.6" cy="458.1" r="3.9"/>
<circle cx="1377.6" cy="471.4" r="3.9"/>
<circle cx="1377.6" cy="474.7" r="3.9"/>
<circle cx="1377.6" cy="481.4" r="3.9"/>
<circle cx="1377.6" cy="484.7" r="3.9"/>
<circle cx="1377.6" cy="488.1" r="3.9"/>
<circle cx="1377.6" cy="491.4" r="3.9"/>
<circle cx="1380.9" cy="454.7" r="3.9"/>
<circle cx="1380.9" cy="458.1" r="3.9"/>
<circle cx="1380.9" cy="461.4" r="3.9"/>
<circle cx="1380.9" cy="464.7" r="3.9"/>
<circle cx="1380.9" cy="468.1" r="3.9"/>
<circle cx="1380.9" cy="508.1" r="3.9"/>
<circle cx="1384.2" cy="448.1" r="3.9"/>
<circle cx="1384.2" cy="461.4" r="3.9"/>
<circle cx="1384.2" cy="464.7" r="3.9"/>
<circle cx="1384.2" cy="468.1" r="3.9"/>
<circle cx="1384.2" cy="508.1" r="3.9"/>
<circle cx="1387.6" cy="461.4" r="3.9"/>
<circle cx="1387.6" cy="464.7" r="3.9"/>
<circle cx="1387.6" cy="481.4" r="3.9"/>
<circle cx="1387.6" cy="504.8" r="3.9"/>
<circle cx="1390.9" cy="451.4" r="3.9"/>
<circle cx="1390.9" cy="454.7" r="3.9"/>
<circle cx="1394.2" cy="458.1" r="3.9"/>
<circle cx="1394.2" cy="474.7" r="3.9"/>
<circle cx="1394.2" cy="498.1" r="3.9"/>
<circle cx="1394.2" cy="511.4" r="3.9"/>
<circle cx="1397.6" cy="448.1" r="3.9"/>
<circle cx="1397.6" cy="458.1" r="3.9"/>
<circle cx="1397.6" cy="474.7" r="3.9"/>
<circle cx="1397.6" cy="511.4" r="3.9"/>
<circle cx="1400.9" cy="448.1" r="3.9"/>
<circle cx="1400.9" cy="458.1" r="3.9"/>
<circle cx="1400.9" cy="464.7" r="3.9"/>
<circle cx="1400.9" cy="514.8" r="3.9"/>
<circle cx="1404.3" cy="458.1" r="3.9"/>
<circle cx="1404.3" cy="488.1" r="3.9"/>
<circle cx="1404.3" cy="491.4" r="3.9"/>
<circle cx="1404.3" cy="514.8" r="3.9"/>
<circle cx="1407.6" cy="444.7" r="3.9"/>
<circle cx="1407.6" cy="471.4" r="3.9"/>
<circle cx="1407.6" cy="508.1" r="3.9"/>
<circle cx="1407.6" cy="511.4" r="3.9"/>
<circle cx="1410.9" cy="444.7" r="3.9"/>
<circle cx="1410.9" cy="448.1" r="3.9"/>
<circle cx="1410.9" cy="451.4" r="3.9"/>
<circle cx="1410.9" cy="481.4" r="3.9"/>
<circle cx="1410.9" cy="514.8" r="3.9"/>
<circle cx="1414.3" cy="461.4" r="3.9"/>
<circle cx="1414.3" cy="464.7" r="3.9"/>
<circle cx="1414.3" cy="478.1" r="3.9"/>
<circle cx="1414.3" cy="501.4" r="3.9"/>
<circle cx="1414.3" cy="518.1" r="3.9"/>
<circle cx="1417.6" cy="461.4" r="3.9"/>
<circle cx="1417.6" cy="464.7" r="3.9"/>
<circle cx="1417.6" cy="478.1" r="3.9"/>
<circle cx="1417.6" cy="504.8" r="3.9"/>
<circle cx="1417.6" cy="518.1" r="3.9"/>
<circle cx="1420.9" cy="438.1" r="3.9"/>
<circle cx="1420.9" cy="441.4" r="3.9"/>
<circle cx="1420.9" cy="451.4" r="3.9"/>
<circle cx="1420.9" cy="454.7" r="3.9"/>
<circle cx="1420.9" cy="478.1" r="3.9"/>
<circle cx="1420.9" cy="504.8" r="3.9"/>
<circle cx="1420.9" cy="518.1" r="3.9"/>
<circle cx="1424.3" cy="438.1" r="3.9"/>
<circle cx="1424.3" cy="441.4" r="3.9"/>
<circle cx="1424.3" cy="451.4" r="3.9"/>
<circle cx="1424.3" cy="454.7" r="3.9"/>
<circle cx="1424.3" cy="478.1" r="3.9"/>
<circle cx="1424.3" cy="508.1" r="3.9"/>
<circle cx="1427.6" cy="438.1" r="3.9"/>
<circle cx="1427.6" cy="441.4" r="3.9"/>
<circle cx="1427.6" cy="474.7" r="3.9"/>
<circle cx="1427.6" cy="488.1" r="3.9"/>
<circle cx="1427.6" cy="518.1" r="3.9"/>
<circle cx="1430.9" cy="434.7" r="3.9"/>
<circle cx="1430.9" cy="438.1" r="3.9"/>
<circle cx="1430.9" cy="441.4" r="3.9"/>
<circle cx="1430.9" cy="458.1" r="3.9"/>
<circle cx="1430.9" cy="484.7" r="3.9"/>
<circle cx="1430.9" cy="514.8" r="3.9"/>
<circle cx="1434.3" cy="434.7" r="3.9"/>
<circle cx="1434.3" cy="438.1" r="3.9"/>
<circle cx="1434.3" cy="441.4" r="3.9"/>
<circle cx="1437.6" cy="434.7" r="3.9"/>
<circle cx="1437.6" cy="438.1" r="3.9"/>
<circle cx="1437.6" cy="441.4" r="3.9"/>
<circle cx="1437.6" cy="461.4" r="3.9"/>
<circle cx="1440.9" cy="434.7" r="3.9"/>
<circle cx="1440.9" cy="474.7" r="3.9"/>
<circle cx="1440.9" cy="498.1" r="3.9"/>
<circle cx="1440.9" cy="521.4" r="3.9"/>
<circle cx="1444.3" cy="454.7" r="3.9"/>
<circle cx="1444.3" cy="458.1" r="3.9"/>
<circle cx="1444.3" cy="468.1" r="3.9"/>
<circle cx="1444.3" cy="471.4" r="3.9"/>
<circle cx="1447.6" cy="431.4" r="3.9"/>
<circle cx="1447.6" cy="434.7" r="3.9"/>
<circle cx="1447.6" cy="438.1" r="3.9"/>
<circle cx="1447.6" cy="454.7" r="3.9"/>
<circle cx="1447.6" cy="524.8" r="3.9"/>
<circle cx="1450.9" cy="434.7" r="3.9"/>
<circle cx="1450.9" cy="438.1" r="3.9"/>
<circle cx="1450.9" cy="454.7" r="3.9"/>
<circle cx="1450.9" cy="498.1" r="3.9"/>
<circle cx="1450.9" cy="524.8" r="3.9"/>
<circle cx="1450.9" cy="528.1" r="3.9"/>
<circle cx="1454.3" cy="434.7" r="3.9"/>
<circle cx="1454.3" cy="438.1" r="3.9"/>
<circle cx="1454.3" cy="474.7" r="3.9"/>
<circle cx="1454.3" cy="514.8" r="3.9"/>
<circle cx="1454.3" cy="528.1" r="3.9"/>
<circle cx="1457.6" cy="431.4" r="3.9"/>
<circle cx="1457.6" cy="434.7" r="3.9"/>
<circle cx="1457.6" cy="464.7" r="3.9"/>
<circle cx="1457.6" cy="504.8" r="3.9"/>
<circle cx="1460.9" cy="431.4" r="3.9"/>
<circle cx="1460.9" cy="468.1" r="3.9"/>
<circle cx="1460.9" cy="488.1" r="3.9"/>
<circle cx="1460.9" cy="514.8" r="3.9"/>
<circle cx="1464.3" cy="428.1" r="3.9"/>
<circle cx="1464.3" cy="468.1" r="3.9"/>
<circle cx="1464.3" cy="498.1" r="3.9"/>
<circle cx="1464.3" cy="531.4" r="3.9"/>
<circle cx="1467.6" cy="428.1" r="3.9"/>
<circle cx="1467.6" cy="464.7" r="3.9"/>
<circle cx="1467.6" cy="468.1" r="3.9"/>
<circle cx="1467.6" cy="471.4" r="3.9"/>
<circle cx="1467.6" cy="474.7" r="3.9"/>
<circle cx="1467.6" cy="478.1" r="3.9"/>
<circle cx="1467.6" cy="518.1" r="3.9"/>
<circle cx="1470.9" cy="428.1" r="3.9"/>
<circle cx="1470.9" cy="431.4" r="3.9"/>
<circle cx="1470.9" cy="441.4" r="3.9"/>
<circle cx="1470.9" cy="514.8" r="3.9"/>
<circle cx="1470.9" cy="528.1" r="3.9"/>
<circle cx="1470.9" cy="531.4" r="3.9"/>
<circle cx="1474.3" cy="428.1" r="3.9"/>
<circle cx="1474.3" cy="431.4" r="3.9"/>
<circle cx="1474.3" cy="441.4" r="3.9"/>
<circle cx="1474.3" cy="491.4" r="3.9"/>
<circle cx="1474.3" cy="494.8" r="3.9"/>
<circle cx="1474.3" cy="534.8" r="3.9"/>
<circle cx="1477.6" cy="424.7" r="3.9"/>
<circle cx="1477.6" cy="428.1" r="3.9"/>
<circle cx="1477.6" cy="438.1" r="3.9"/>
<circle cx="1477.6" cy="441.4" r="3.9"/>
<circle cx="1477.6" cy="454.7" r="3.9"/>
<circle cx="1477.6" cy="498.1" r="3.9"/>
<circle cx="1481.0" cy="438.1" r="3.9"/>
<circle cx="1481.0" cy="481.4" r="3.9"/>
<circle cx="1481.0" cy="514.8" r="3.9"/>
<circle cx="1481.0" cy="521.4" r="3.9"/>
<circle cx="1484.3" cy="421.4" r="3.9"/>
<circle cx="1484.3" cy="424.7" r="3.9"/>
<circle cx="1484.3" cy="428.1" r="3.9"/>
<circle cx="1484.3" cy="471.4" r="3.9"/>
<circle cx="1484.3" cy="481.4" r="3.9"/>
<circle cx="1487.6" cy="428.1" r="3.9"/>
<circle cx="1487.6" cy="444.7" r="3.9"/>
<circle cx="1487.6" cy="491.4" r="3.9"/>
<circle cx="1487.6" cy="511.4" r="3.9"/>
<circle cx="1491.0" cy="428.1" r="3.9"/>
<circle cx="1491.0" cy="444.7" r="3.9"/>
<circle cx="1491.0" cy="448.1" r="3.9"/>
<circle cx="1491.0" cy="451.4" r="3.9"/>
<circle cx="1491.0" cy="454.7" r="3.9"/>
<circle cx="1491.0" cy="458.1" r="3.9"/>
<circle cx="1491.0" cy="508.1" r="3.9"/>
<circle cx="1494.3" cy="424.7" r="3.9"/>
<circle cx="1494.3" cy="441.4" r="3.9"/>
<circle cx="1494.3" cy="488.1" r="3.9"/>
<circle cx="1494.3" cy="508.1" r="3.9"/>
<circle cx="1494.3" cy="538.1" r="3.9"/>
<circle cx="1497.6" cy="414.7" r="3.9"/>
<circle cx="1497.6" cy="454.7" r="3.9"/>
<circle cx="1497.6" cy="504.8" r="3.9"/>
<circle cx="1497.6" cy="534.8" r="3.9"/>
<circle cx="1501.0" cy="414.7" r="3.9"/>
<circle cx="1501.0" cy="431.4" r="3.9"/>
<circle cx="1501.0" cy="458.1" r="3.9"/>
<circle cx="1501.0" cy="461.4" r="3.9"/>
<circle cx="1504.3" cy="414.7" r="3.9"/>
<circle cx="1504.3" cy="428.1" r="3.9"/>
<circle cx="1504.3" cy="441.4" r="3.9"/>
<circle cx="1504.3" cy="544.8" r="3.9"/>
<circle cx="1507.6" cy="411.4" r="3.9"/>
<circle cx="1507.6" cy="418.1" r="3.9"/>
<circle cx="1507.6" cy="481.4" r="3.9"/>
<circle cx="1507.6" cy="511.4" r="3.9"/>
<circle cx="1511.0" cy="438.1" r="3.9"/>
<circle cx="1511.0" cy="444.7" r="3.9"/>
<circle cx="1511.0" cy="454.7" r="3.9"/>
<circle cx="1511.0" cy="518.1" r="3.9"/>
<circle cx="1511.0" cy="521.4" r="3.9"/>
<circle cx="1514.3" cy="414.7" r="3.9"/>
<circle cx="1514.3" cy="468.1" r="3.9"/>
<circle cx="1514.3" cy="498.1" r="3.9"/>
<circle cx="1514.3" cy="514.8" r="3.9"/>
<circle cx="1517.6" cy="414.7" r="3.9"/>
<circle cx="1517.6" cy="428.1" r="3.9"/>
<circle cx="1517.6" cy="514.8" r="3.9"/>
<circle cx="1521.0" cy="408.0" r="3.9"/>
<circle cx="1521.0" cy="411.4" r="3.9"/>
<circle cx="1521.0" cy="414.7" r="3.9"/>
<circle cx="1521.0" cy="418.1" r="3.9"/>
<circle cx="1521.0" cy="421.4" r="3.9"/>
<circle cx="1521.0" cy="431.4" r="3.9"/>
<circle cx="1521.0" cy="434.7" r="3.9"/>
<circle cx="1521.0" cy="438.1" r="3.9"/>
<circle cx="1521.0" cy="441.4" r="3.9"/>
<circle cx="1524.3" cy="431.4" r="3.9"/>
<circle cx="1524.3" cy="434.7" r="3.9"/>
<circle cx="1524.3" cy="461.4" r="3.9"/>
<circle cx="1524.3" cy="464.7" r="3.9"/>
<circle cx="1524.3" cy="468.1" r="3.9"/>
<circle cx="1527.6" cy="424.7" r="3.9"/>
<circle cx="1527.6" cy="451.4" r="3.9"/>
<circle cx="1527.6" cy="461.4" r="3.9"/>
<circle cx="1527.6" cy="464.7" r="3.9"/>
<circle cx="1527.6" cy="548.1" r="3.9"/>
<circle cx="1531.0" cy="414.7" r="3.9"/>
<circle cx="1531.0" cy="461.4" r="3.9"/>
<circle cx="1531.0" cy="464.7" r="3.9"/>
<circle cx="1531.0" cy="544.8" r="3.9"/>
<circle cx="1534.3" cy="414.7" r="3.9"/>
<circle cx="1534.3" cy="424.7" r="3.9"/>
<circle cx="1534.3" cy="461.4" r="3.9"/>
<circle cx="1534.3" cy="464.7" r="3.9"/>
<circle cx="1534.3" cy="548.1" r="3.9"/>
<circle cx="1537.6" cy="408.0" r="3.9"/>
<circle cx="1537.6" cy="424.7" r="3.9"/>
<circle cx="1537.6" cy="464.7" r="3.9"/>
<circle cx="1537.6" cy="538.1" r="3.9"/>
<circle cx="1541.0" cy="404.7" r="3.9"/>
<circle cx="1541.0" cy="464.7" r="3.9"/>
<circle cx="1541.0" cy="478.1" r="3.9"/>
<circle cx="1541.0" cy="491.4" r="3.9"/>
<circle cx="1541.0" cy="554.8" r="3.9"/>
<circle cx="1544.3" cy="401.4" r="3.9"/>
<circle cx="1544.3" cy="464.7" r="3.9"/>
<circle cx="1544.3" cy="524.8" r="3.9"/>
<circle cx="1544.3" cy="554.8" r="3.9"/>
<circle cx="1547.6" cy="401.4" r="3.9"/>
<circle cx="1547.6" cy="464.7" r="3.9"/>
<circle cx="1547.6" cy="528.1" r="3.9"/>
<circle cx="1547.6" cy="558.1" r="3.9"/>
<circle cx="1551.0" cy="401.4" r="3.9"/>
<circle cx="1551.0" cy="448.1" r="3.9"/>
<circle cx="1551.0" cy="534.8" r="3.9"/>
<circle cx="1551.0" cy="558.1" r="3.9"/>
<circle cx="1554.3" cy="408.0" r="3.9"/>
<circle cx="1554.3" cy="441.4" r="3.9"/>
<circle cx="1554.3" cy="554.8" r="3.9"/>
<circle cx="1557.7" cy="404.7" r="3.9"/>
<circle cx="1557.7" cy="408.0" r="3.9"/>
<circle cx="1557.7" cy="411.4" r="3.9"/>
<circle cx="1557.7" cy="414.7" r="3.9"/>
<circle cx="1557.7" cy="438.1" r="3.9"/>
<circle cx="1557.7" cy="514.8" r="3.9"/>
<circle cx="1561.0" cy="404.7" r="3.9"/>
<circle cx="1561.0" cy="408.0" r="3.9"/>
<circle cx="1561.0" cy="411.4" r="3.9"/>
<circle cx="1561.0" cy="448.1" r="3.9"/>
<circle cx="1561.0" cy="451.4" r="3.9"/>
<circle cx="1564.3" cy="404.7" r="3.9"/>
<circle cx="1564.3" cy="408.0" r="3.9"/>
<circle cx="1564.3" cy="411.4" r="3.9"/>
<circle cx="1564.3" cy="541.4" r="3.9"/>
<circle cx="1567.7" cy="394.7" r="3.9"/>
<circle cx="1567.7" cy="408.0" r="3.9"/>
<circle cx="1567.7" cy="428.1" r="3.9"/>
<circle cx="1567.7" cy="438.1" r="3.9"/>
<circle cx="1571.0" cy="421.4" r="3.9"/>
<circle cx="1571.0" cy="424.7" r="3.9"/>
<circle cx="1571.0" cy="428.1" r="3.9"/>
<circle cx="1571.0" cy="444.7" r="3.9"/>
<circle cx="1571.0" cy="528.1" r="3.9"/>
<circle cx="1574.3" cy="394.7" r="3.9"/>
<circle cx="1574.3" cy="418.1" r="3.9"/>
<circle cx="1574.3" cy="464.7" r="3.9"/>
<circle cx="1574.3" cy="498.1" r="3.9"/>
<circle cx="1577.7" cy="461.4" r="3.9"/>
<circle cx="1577.7" cy="464.7" r="3.9"/>
<circle cx="1577.7" cy="508.1" r="3.9"/>
<circle cx="1577.7" cy="548.1" r="3.9"/>
<circle cx="1577.7" cy="564.8" r="3.9"/>
<circle cx="1581.0" cy="401.4" r="3.9"/>
<circle cx="1581.0" cy="418.1" r="3.9"/>
<circle cx="1581.0" cy="428.1" r="3.9"/>
<circle cx="1581.0" cy="468.1" r="3.9"/>
<circle cx="1584.3" cy="394.7" r="3.9"/>
<circle cx="1584.3" cy="421.4" r="3.9"/>
<circle cx="1584.3" cy="488.1" r="3.9"/>
<circle cx="1584.3" cy="511.4" r="3.9"/>
<circle cx="1587.7" cy="401.4" r="3.9"/>
<circle cx="1587.7" cy="408.0" r="3.9"/>
<circle cx="1587.7" cy="438.1" r="3.9"/>
<circle cx="1587.7" cy="504.8" r="3.9"/>
<circle cx="1591.0" cy="404.7" r="3.9"/>
<circle cx="1591.0" cy="408.0" r="3.9"/>
<circle cx="1591.0" cy="411.4" r="3.9"/>
<circle cx="1591.0" cy="508.1" r="3.9"/>
<circle cx="1594.3" cy="391.4" r="3.9"/>
<circle cx="1594.3" cy="421.4" r="3.9"/>
<circle cx="1594.3" cy="458.1" r="3.9"/>
<circle cx="1597.7" cy="391.4" r="3.9"/>
<circle cx="1597.7" cy="394.7" r="3.9"/>
<circle cx="1597.7" cy="498.1" r="3.9"/>
<circle cx="1601.0" cy="391.4" r="3.9"/>
<circle cx="1601.0" cy="394.7" r="3.9"/>
<circle cx="1601.0" cy="398.0" r="3.9"/>
<circle cx="1601.0" cy="421.4" r="3.9"/>
<circle cx="1601.0" cy="451.4" r="3.9"/>
<circle cx="1601.0" cy="461.4" r="3.9"/>
<circle cx="1601.0" cy="494.8" r="3.9"/>
<circle cx="1604.3" cy="391.4" r="3.9"/>
<circle cx="1604.3" cy="464.7" r="3.9"/>
<circle cx="1604.3" cy="554.8" r="3.9"/>
<circle cx="1604.3" cy="558.1" r="3.9"/>
<circle cx="1604.3" cy="561.4" r="3.9"/>
<circle cx="1607.7" cy="388.0" r="3.9"/>
<circle cx="1607.7" cy="438.1" r="3.9"/>
<circle cx="1607.7" cy="468.1" r="3.9"/>
<circle cx="1607.7" cy="471.4" r="3.9"/>
<circle cx="1607.7" cy="524.8" r="3.9"/>
<circle cx="1607.7" cy="558.1" r="3.9"/>
<circle cx="1611.0" cy="408.0" r="3.9"/>
<circle cx="1611.0" cy="414.7" r="3.9"/>
<circle cx="1611.0" cy="498.1" r="3.9"/>
<circle cx="1611.0" cy="558.1" r="3.9"/>
<circle cx="1614.3" cy="404.7" r="3.9"/>
<circle cx="1614.3" cy="494.8" r="3.9"/>
<circle cx="1614.3" cy="564.8" r="3.9"/>
<circle cx="1614.3" cy="568.1" r="3.9"/>
<circle cx="1617.7" cy="394.7" r="3.9"/>
<circle cx="1617.7" cy="478.1" r="3.9"/>
<circle cx="1617.7" cy="551.4" r="3.9"/>
<circle cx="1617.7" cy="568.1" r="3.9"/>
<circle cx="1621.0" cy="411.4" r="3.9"/>
<circle cx="1621.0" cy="414.7" r="3.9"/>
<circle cx="1621.0" cy="418.1" r="3.9"/>
<circle cx="1621.0" cy="451.4" r="3.9"/>
<circle cx="1621.0" cy="494.8" r="3.9"/>
<circle cx="1624.3" cy="391.4" r="3.9"/>
<circle cx="1624.3" cy="414.7" r="3.9"/>
<circle cx="1624.3" cy="421.4" r="3.9"/>
<circle cx="1624.3" cy="424.7" r="3.9"/>
<circle cx="1624.3" cy="471.4" r="3.9"/>
<circle cx="1627.7" cy="394.7" r="3.9"/>
<circle cx="1627.7" cy="414.7" r="3.9"/>
<circle cx="1627.7" cy="434.7" r="3.9"/>
<circle cx="1627.7" cy="524.8" r="3.9"/>
<circle cx="1631.0" cy="444.7" r="3.9"/>
<circle cx="1631.0" cy="484.7" r="3.9"/>
<circle cx="1631.0" cy="491.4" r="3.9"/>
<circle cx="1631.0" cy="508.1" r="3.9"/>
<circle cx="1634.4" cy="388.0" r="3.9"/>
<circle cx="1634.4" cy="401.4" r="3.9"/>
<circle cx="1634.4" cy="518.1" r="3.9"/>
<circle cx="1637.7" cy="388.0" r="3.9"/>
<circle cx="1637.7" cy="391.4" r="3.9"/>
<circle cx="1637.7" cy="421.4" r="3.9"/>
<circle cx="1637.7" cy="424.7" r="3.9"/>
<circle cx="1637.7" cy="448.1" r="3.9"/>
<circle cx="1641.0" cy="394.7" r="3.9"/>
<circle cx="1641.0" cy="408.0" r="3.9"/>
<circle cx="1641.0" cy="411.4" r="3.9"/>
<circle cx="1641.0" cy="521.4" r="3.9"/>
<circle cx="1644.4" cy="404.7" r="3.9"/>
<circle cx="1644.4" cy="414.7" r="3.9"/>
<circle cx="1644.4" cy="434.7" r="3.9"/>
<circle cx="1647.7" cy="388.0" r="3.9"/>
<circle cx="1647.7" cy="404.7" r="3.9"/>
<circle cx="1647.7" cy="481.4" r="3.9"/>
<circle cx="1647.7" cy="531.4" r="3.9"/>
<circle cx="1647.7" cy="548.1" r="3.9"/>
<circle cx="1651.0" cy="391.4" r="3.9"/>
<circle cx="1651.0" cy="404.7" r="3.9"/>
<circle cx="1651.0" cy="408.0" r="3.9"/>
<circle cx="1651.0" cy="411.4" r="3.9"/>
<circle cx="1651.0" cy="448.1" r="3.9"/>
<circle cx="1654.4" cy="394.7" r="3.9"/>
<circle cx="1654.4" cy="421.4" r="3.9"/>
<circle cx="1654.4" cy="444.7" r="3.9"/>
<circle cx="1654.4" cy="554.8" r="3.9"/>
<circle cx="1657.7" cy="394.7" r="3.9"/>
<circle cx="1657.7" cy="411.4" r="3.9"/>
<circle cx="1657.7" cy="434.7" r="3.9"/>
<circle cx="1657.7" cy="451.4" r="3.9"/>
<circle cx="1661.0" cy="424.7" r="3.9"/>
<circle cx="1661.0" cy="531.4" r="3.9"/>
<circle cx="1661.0" cy="558.1" r="3.9"/>
<circle cx="1661.0" cy="561.4" r="3.9"/>
<circle cx="1664.4" cy="404.7" r="3.9"/>
<circle cx="1664.4" cy="428.1" r="3.9"/>
<circle cx="1664.4" cy="491.4" r="3.9"/>
<circle cx="1664.4" cy="551.4" r="3.9"/>
<circle cx="1667.7" cy="398.0" r="3.9"/>
<circle cx="1667.7" cy="401.4" r="3.9"/>
<circle cx="1667.7" cy="404.7" r="3.9"/>
<circle cx="1667.7" cy="408.0" r="3.9"/>
<circle cx="1667.7" cy="438.1" r="3.9"/>
<circle cx="1667.7" cy="531.4" r="3.9"/>
<circle cx="1671.0" cy="404.7" r="3.9"/>
<circle cx="1671.0" cy="494.8" r="3.9"/>
<circle cx="1671.0" cy="508.1" r="3.9"/>
<circle cx="1671.0" cy="538.1" r="3.9"/>
<circle cx="1674.4" cy="424.7" r="3.9"/>
<circle cx="1674.4" cy="428.1" r="3.9"/>
<circle cx="1674.4" cy="431.4" r="3.9"/>
<circle cx="1674.4" cy="468.1" r="3.9"/>
<circle cx="1674.4" cy="561.4" r="3.9"/>
<circle cx="1677.7" cy="398.0" r="3.9"/>
<circle cx="1677.7" cy="424.7" r="3.9"/>
<circle cx="1677.7" cy="428.1" r="3.9"/>
<circle cx="1677.7" cy="438.1" r="3.9"/>
<circle cx="1677.7" cy="504.8" r="3.9"/>
<circle cx="1677.7" cy="554.8" r="3.9"/>
<circle cx="1681.0" cy="398.0" r="3.9"/>
<circle cx="1681.0" cy="401.4" r="3.9"/>
<circle cx="1681.0" cy="404.7" r="3.9"/>
<circle cx="1681.0" cy="424.7" r="3.9"/>
<circle cx="1681.0" cy="428.1" r="3.9"/>
<circle cx="1684.4" cy="401.4" r="3.9"/>
<circle cx="1684.4" cy="404.7" r="3.9"/>
<circle cx="1684.4" cy="408.0" r="3.9"/>
<circle cx="1684.4" cy="411.4" r="3.9"/>
<circle cx="1684.4" cy="541.4" r="3.9"/>
<circle cx="1684.4" cy="551.4" r="3.9"/>
<circle cx="1687.7" cy="404.7" r="3.9"/>
<circle cx="1687.7" cy="408.0" r="3.9"/>
<circle cx="1687.7" cy="411.4" r="3.9"/>
<circle cx="1687.7" cy="434.7" r="3.9"/>
<circle cx="1691.0" cy="404.7" r="3.9"/>
<circle cx="1691.0" cy="408.0" r="3.9"/>
<circle cx="1691.0" cy="411.4" r="3.9"/>
<circle cx="1691.0" cy="414.7" r="3.9"/>
<circle cx="1691.0" cy="438.1" r="3.9"/>
<circle cx="1694.4" cy="408.0" r="3.9"/>
<circle cx="1694.4" cy="451.4" r="3.9"/>
<circle cx="1694.4" cy="474.7" r="3.9"/>
<circle cx="1694.4" cy="541.4" r="3.9"/>
<circle cx="1697.7" cy="404.7" r="3.9"/>
<circle cx="1697.7" cy="408.0" r="3.9"/>
<circle cx="1697.7" cy="464.7" r="3.9"/>
<circle cx="1697.7" cy="498.1" r="3.9"/>
<circle cx="1701.0" cy="428.1" r="3.9"/>
<circle cx="1701.0" cy="441.4" r="3.9"/>
<circle cx="1701.0" cy="524.8" r="3.9"/>
<circle cx="1701.0" cy="528.1" r="3.9"/>
<circle cx="1704.4" cy="421.4" r="3.9"/>
<circle cx="1704.4" cy="424.7" r="3.9"/>
<circle cx="1704.4" cy="428.1" r="3.9"/>
<circle cx="1704.4" cy="504.8" r="3.9"/>
<circle cx="1704.4" cy="524.8" r="3.9"/>
<circle cx="1707.7" cy="434.7" r="3.9"/>
<circle cx="1707.7" cy="444.7" r="3.9"/>
<circle cx="1707.7" cy="494.8" r="3.9"/>
<circle cx="1707.7" cy="548.1" r="3.9"/>
<circle cx="1711.1" cy="414.7" r="3.9"/>
<circle cx="1711.1" cy="448.1" r="3.9"/>
<circle cx="1711.1" cy="451.4" r="3.9"/>
<circle cx="1711.1" cy="461.4" r="3.9"/>
<circle cx="1711.1" cy="498.1" r="3.9"/>
<circle cx="1714.4" cy="414.7" r="3.9"/>
<circle cx="1714.4" cy="418.1" r="3.9"/>
<circle cx="1714.4" cy="508.1" r="3.9"/>
<circle cx="1714.4" cy="528.1" r="3.9"/>
<circle cx="1717.7" cy="418.1" r="3.9"/>
<circle cx="1717.7" cy="431.4" r="3.9"/>
<circle cx="1717.7" cy="434.7" r="3.9"/>
<circle cx="1721.1" cy="421.4" r="3.9"/>
<circle cx="1721.1" cy="434.7" r="3.9"/>
<circle cx="1721.1" cy="484.7" r="3.9"/>
<circle cx="1721.1" cy="504.8" r="3.9"/>
<circle cx="1724.4" cy="421.4" r="3.9"/>
<circle cx="1724.4" cy="434.7" r="3.9"/>
<circle cx="1724.4" cy="458.1" r="3.9"/>
<circle cx="1724.4" cy="504.8" r="3.9"/>
<circle cx="1727.7" cy="431.4" r="3.9"/>
<circle cx="1727.7" cy="444.7" r="3.9"/>
<circle cx="1727.7" cy="501.4" r="3.9"/>
<circle cx="1731.1" cy="431.4" r="3.9"/>
<circle cx="1731.1" cy="434.7" r="3.9"/>
<circle cx="1731.1" cy="438.1" r="3.9"/>
<circle cx="1731.1" cy="441.4" r="3.9"/>
<circle cx="1731.1" cy="498.1" r="3.9"/>
<circle cx="1731.1" cy="524.8" r="3.9"/>
<circle cx="1734.4" cy="514.8" r="3.9"/>
<circle cx="1734.4" cy="524.8" r="3.9"/>
<circle cx="1737.7" cy="431.4" r="3.9"/>
<circle cx="1737.7" cy="441.4" r="3.9"/>
<circle cx="1737.7" cy="444.7" r="3.9"/>
<circle cx="1737.7" cy="481.4" r="3.9"/>
<circle cx="1741.1" cy="438.1" r="3.9"/>
<circle cx="1741.1" cy="441.4" r="3.9"/>
<circle cx="1741.1" cy="444.7" r="3.9"/>
<circle cx="1741.1" cy="448.1" r="3.9"/>
<circle cx="1741.1" cy="468.1" r="3.9"/>
<circle cx="1741.1" cy="481.4" r="3.9"/>
<circle cx="1744.4" cy="441.4" r="3.9"/>
<circle cx="1744.4" cy="444.7" r="3.9"/>
<circle cx="1744.4" cy="471.4" r="3.9"/>
<circle cx="1744.4" cy="518.1" r="3.9"/>
<circle cx="1744.4" cy="521.4" r="3.9"/>
<circle cx="1747.7" cy="438.1" r="3.9"/>
<circle cx="1747.7" cy="441.4" r="3.9"/>
<circle cx="1747.7" cy="444.7" r="3.9"/>
<circle cx="1747.7" cy="451.4" r="3.9"/>
<circle cx="1747.7" cy="454.7" r="3.9"/>
<circle cx="1747.7" cy="471.4" r="3.9"/>
<circle cx="1751.1" cy="441.4" r="3.9"/>
<circle cx="1751.1" cy="444.7" r="3.9"/>
<circle cx="1751.1" cy="454.7" r="3.9"/>
<circle cx="1751.1" cy="458.1" r="3.9"/>
<circle cx="1751.1" cy="471.4" r="3.9"/>
<circle cx="1751.1" cy="494.8" r="3.9"/>
<circle cx="1754.4" cy="441.4" r="3.9"/>
<circle cx="1754.4" cy="444.7" r="3.9"/>
<circle cx="1754.4" cy="458.1" r="3.9"/>
<circle cx="1754.4" cy="461.4" r="3.9"/>
<circle cx="1754.4" cy="514.8" r="3.9"/>
<circle cx="1757.7" cy="441.4" r="3.9"/>
<circle cx="1757.7" cy="444.7" r="3.9"/>
<circle cx="1757.7" cy="448.1" r="3.9"/>
<circle cx="1757.7" cy="461.4" r="3.9"/>
<circle cx="1757.7" cy="511.4" r="3.9"/>
<circle cx="1761.1" cy="444.7" r="3.9"/>
<circle cx="1761.1" cy="448.1" r="3.9"/>
<circle cx="1761.1" cy="451.4" r="3.9"/>
<circle cx="1761.1" cy="468.1" r="3.9"/>
<circle cx="1761.1" cy="508.1" r="3.9"/>
<circle cx="1764.4" cy="451.4" r="3.9"/>
<circle cx="1764.4" cy="454.7" r="3.9"/>
<circle cx="1764.4" cy="491.4" r="3.9"/>
<circle cx="1764.4" cy="508.1" r="3.9"/>
<circle cx="1767.7" cy="451.4" r="3.9"/>
<circle cx="1767.7" cy="464.7" r="3.9"/>
<circle cx="1767.7" cy="468.1" r="3.9"/>
<circle cx="1767.7" cy="471.4" r="3.9"/>
<circle cx="1767.7" cy="474.7" r="3.9"/>
<circle cx="1767.7" cy="478.1" r="3.9"/>
<circle cx="1767.7" cy="501.4" r="3.9"/>
<circle cx="1771.1" cy="454.7" r="3.9"/>
<circle cx="1771.1" cy="484.7" r="3.9"/>
<circle cx="1771.1" cy="501.4" r="3.9"/>
<circle cx="1774.4" cy="454.7" r="3.9"/>
<circle cx="1774.4" cy="458.1" r="3.9"/>
<circle cx="1774.4" cy="461.4" r="3.9"/>
<circle cx="1774.4" cy="484.7" r="3.9"/>
<circle cx="1777.7" cy="458.1" r="3.9"/>
<circle cx="1777.7" cy="468.1" r="3.9"/>
<circle cx="1777.7" cy="481.4" r="3.9"/>
<circle cx="1777.7" cy="484.7" r="3.9"/>
<circle cx="1777.7" cy="498.1" r="3.9"/>
<circle cx="1781.1" cy="458.1" r="3.9"/>
<circle cx="1781.1" cy="468.1" r="3.9"/>
<circle cx="1781.1" cy="471.4" r="3.9"/>
<circle cx="1781.1" cy="474.7" r="3.9"/>
<circle cx="1781.1" cy="478.1" r="3.9"/>
<circle cx="1781.1" cy="481.4" r="3.9"/>
<circle cx="1781.1" cy="484.7" r="3.9"/>
<circle cx="1784.4" cy="468.1" r="3.9"/>
<circle cx="1784.4" cy="471.4" r="3.9"/>
<circle cx="1784.4" cy="474.7" r="3.9"/>
<circle cx="1784.4" cy="478.1" r="3.9"/>
<circle cx="1784.4" cy="481.4" r="3.9"/>
<circle cx="1784.4" cy="484.7" r="3.9"/>
<circle cx="1784.4" cy="494.8" r="3.9"/>
<circle cx="1787.8" cy="464.7" r="3.9"/>
<circle cx="1787.8" cy="468.1" r="3.9"/>
<circle cx="1787.8" cy="478.1" r="3.9"/>
<circle cx="1787.8" cy="481.4" r="3.9"/>
<circle cx="1787.8" cy="491.4" r="3.9"/>
<circle cx="1791.1" cy="468.1" r="3.9"/>
<circle cx="1791.1" cy="478.1" r="3.9"/>
<circle cx="1791.1" cy="481.4" r="3.9"/>
<circle cx="1791.1" cy="488.1" r="3.9"/>
<circle cx="1794.4" cy="468.1" r="3.9"/>
<circle cx="1794.4" cy="471.4" r="3.9"/>
<circle cx="1794.4" cy="474.7" r="3.9"/>
<circle cx="1794.4" cy="478.1" r="3.9"/>
<circle cx="1794.4" cy="481.4" r="3.9"/>
<circle cx="1797.8" cy="468.1" r="3.9"/>
<circle cx="1797.8" cy="471.4" r="3.9"/>
<circle cx="1797.8" cy="474.7" r="3.9"/>
<circle cx="1797.8" cy="478.1" r="3.9"/>
<circle cx="1797.8" cy="481.4" r="3.9"/>
<circle cx="1801.1" cy="471.4" r="3.9"/>
<circle cx="1801.1" cy="474.7" r="3.9"/>
<circle cx="1801.1" cy="478.1" r="3.9"/>
<circle cx="1801.1" cy="488.1" r="3.9"/>
<circle cx="1804.4" cy="471.4" r="3.9"/>
<circle cx="1804.4" cy="474.7" r="3.9"/>
<circle cx="1804.4" cy="478.1" r="3.9"/>
<circle cx="1807.8" cy="474.7" r="3.9"/>
<circle cx="1807.8" cy="478.1" r="3.9"/>
<circle cx="1807.8" cy="481.4" r="3.9"/>
<circle cx="1807.8" cy="484.7" r="3.9"/>
<circle cx="1811.1" cy="474.7" r="3.9"/>
<circle cx="1811.1" cy="478.1" r="3.9"/>
<circle cx="1811.1" cy="481.4" r="3.9"/>
<circle cx="1811.1" cy="484.7" r="3.9"/>
<circle cx="1814.4" cy="474.7" r="3.9"/>
<circle cx="1814.4" cy="478.1" r="3.9"/>
<circle cx="1814.4" cy="481.4" r="3.9"/>
<circle cx="1814.4" cy="484.7" r="3.9"/>
<circle cx="1817.8" cy="474.7" r="3.9"/>
<circle cx="1817.8" cy="478.1" r="3.9"/>
<circle cx="1817.8" cy="481.4" r="3.9"/>
<circle cx="1821.1" cy="474.7" r="3.9"/>
<circle cx="1821.1" cy="478.1" r="3.9"/>
<circle cx="1821.1" cy="481.4" r="3.9"/>
<circle cx="1824.4" cy="474.7" r="3.9"/>
<circle cx="1824.4" cy="478.1" r="3.9"/>
<circle cx="1824.4" cy="481.4" r="3.9"/>
<circle cx="1827.8" cy="478.1" r="3.9"/>
<circle cx="1827.8" cy="481.4" r="3.9"/>
<circle cx="1831.1" cy="478.1" r="3.9"/>
<circle cx="1834.4" cy="478.1" r="3.9"/>
<circle cx="1837.8" cy="478.1" r="3.9"/>
<circle cx="1841.1" cy="478.1" r="3.9"/>
<circle cx="1844.4" cy="478.1" r="3.9"/>
<circle cx="1847.8" cy="478.1" r="3.9"/>
<circle cx="1851.1" cy="478.1" r="3.9"/>
<circle cx="1854.4" cy="478.1" r="3.9"/>
<circle cx="1857.8" cy="478.1" r="3.9"/>
<circle cx="1861.1" cy="478.1" r="3.9"/>
<circle cx="1864.5" cy="478.1" r="3.9"/>
<circle cx="1867.8" cy="478.1" r="3.9"/>
<circle cx="1871.1" cy="478.1" r="3.9"/>
<circle cx="1874.5" cy="478.1" r="3.9"/>
<circle cx="1877.8" cy="478.1" r="3.9"/>
<circle cx="1881.1" cy="478.1" r="3.9"/>
<circle cx="1884.5" cy="478.1" r="3.9"/>
<circle cx="1887.8" cy="478.1" r="3.9"/>
<circle cx="1891.1" cy="478.1" r="3.9"/>
<circle cx="1894.5" cy="478.1" r="3.9"/>
<circle cx="1897.8" cy="478.1" r="3.9"/>
<circle cx="1901.1" cy="478.1" r="3.9"/>
<circle cx="1904.5" cy="478.1" r="3.9"/>
<circle cx="1907.8" cy="478.1" r="3.9"/>
<circle cx="1911.1" cy="478.1" r="3.9"/>
<circle cx="1914.5" cy="478.1" r="3.9"/>
<circle cx="1917.8" cy="478.1" r="3.9"/>
<circle cx="1921.1" cy="478.1" r="3.9"/>
<circle cx="1924.5" cy="478.1" r="3.9"/>
<circle cx="1927.8" cy="478.1" r="3.9"/>
<circle cx="1931.1" cy="478.1" r="3.9"/>
<circle cx="1934.5" cy="478.1" r="3.9"/>
</g>
<g id="frame" fill="#000" shape-rendering="crispEdges">
<rect x="272.00" y="41.00" width="4.00" height="1032.00"/>
<rect x="1934.00" y="41.00" width="4.00" height="1032.00"/>
<rect x="272.00" y="41.00" width="1666.00" height="4.00"/>
<rect x="272.00" y="1068.00" width="1666.00" height="5.00"/>
</g>
<g id="ticks" fill="#000">
<rect x="347.23" y="1057.00" width="4.40" height="12.00"/>
<rect x="391.59" y="1057.00" width="4.40" height="12.00"/>
<rect x="423.06" y="1057.00" width="4.40" height="12.00"/>
<rect x="447.47" y="1057.00" width="4.40" height="12.00"/>
<rect x="467.42" y="1057.00" width="4.40" height="12.00"/>
<rect x="484.28" y="1057.00" width="4.40" height="12.00"/>
<rect x="498.89" y="1057.00" width="4.40" height="12.00"/>
<rect x="511.77" y="1057.00" width="4.40" height="12.00"/>
<rect x="523.30" y="1057.00" width="4.40" height="12.00"/>
<rect x="599.13" y="1057.00" width="4.40" height="12.00"/>
<rect x="643.49" y="1057.00" width="4.40" height="12.00"/>
<rect x="674.96" y="1057.00" width="4.40" height="12.00"/>
<rect x="699.37" y="1057.00" width="4.40" height="12.00"/>
<rect x="719.32" y="1057.00" width="4.40" height="12.00"/>
<rect x="736.18" y="1057.00" width="4.40" height="12.00"/>
<rect x="750.79" y="1057.00" width="4.40" height="12.00"/>
<rect x="763.67" y="1057.00" width="4.40" height="12.00"/>
<rect x="775.20" y="1057.00" width="4.40" height="12.00"/>
<rect x="851.03" y="1057.00" width="4.40" height="12.00"/>
<rect x="895.39" y="1057.00" width="4.40" height="12.00"/>
<rect x="926.86" y="1057.00" width="4.40" height="12.00"/>
<rect x="951.27" y="1057.00" width="4.40" height="12.00"/>
<rect x="971.22" y="1057.00" width="4.40" height="12.00"/>
<rect x="988.08" y="1057.00" width="4.40" height="12.00"/>
<rect x="1002.69" y="1057.00" width="4.40" height="12.00"/>
<rect x="1015.57" y="1057.00" width="4.40" height="12.00"/>
<rect x="1027.10" y="1057.00" width="4.40" height="12.00"/>
<rect x="1102.93" y="1057.00" width="4.40" height="12.00"/>
<rect x="1147.29" y="1057.00" width="4.40" height="12.00"/>
<rect x="1178.76" y="1057.00" width="4.40" height="12.00"/>
<rect x="1203.17" y="1057.00" width="4.40" height="12.00"/>
<rect x="1223.12" y="1057.00" width="4.40" height="12.00"/>
<rect x="1239.98" y="1057.00" width="4.40" height="12.00"/>
<rect x="1254.59" y="1057.00" width="4.40" height="12.00"/>
<rect x="1267.47" y="1057.00" width="4.40" height="12.00"/>
<rect x="1279.00" y="1057.00" width="4.40" height="12.00"/>
<rect x="1354.83" y="1057.00" width="4.40" height="12.00"/>
<rect x="1399.19" y="1057.00" width="4.40" height="12.00"/>
<rect x="1430.66" y="1057.00" width="4.40" height="12.00"/>
<rect x="1455.07" y="1057.00" width="4.40" height="12.00"/>
<rect x="1475.02" y="1057.00" width="4.40" height="12.00"/>
<rect x="1491.88" y="1057.00" width="4.40" height="12.00"/>
<rect x="1506.49" y="1057.00" width="4.40" height="12.00"/>
<rect x="1519.37" y="1057.00" width="4.40" height="12.00"/>
<rect x="1530.90" y="1057.00" width="4.40" height="12.00"/>
<rect x="1606.73" y="1057.00" width="4.40" height="12.00"/>
<rect x="1651.09" y="1057.00" width="4.40" height="12.00"/>
<rect x="1682.56" y="1057.00" width="4.40" height="12.00"/>
<rect x="1706.97" y="1057.00" width="4.40" height="12.00"/>
<rect x="1726.92" y="1057.00" width="4.40" height="12.00"/>
<rect x="1743.78" y="1057.00" width="4.40" height="12.00"/>
<rect x="1758.39" y="1057.00" width="4.40" height="12.00"/>
<rect x="1771.27" y="1057.00" width="4.40" height="12.00"/>
<rect x="1782.80" y="1057.00" width="4.40" height="12.00"/>
<rect x="1858.63" y="1057.00" width="4.40" height="12.00"/>
<rect x="1902.99" y="1057.00" width="4.40" height="12.00"/>
<rect x="275.00" y="985.64" width="13.00" height="4.40"/>
<rect x="275.00" y="944.45" width="13.00" height="4.40"/>
<rect x="275.00" y="920.35" width="13.00" height="4.40"/>
<rect x="275.00" y="903.25" width="13.00" height="4.40"/>
<rect x="275.00" y="889.99" width="13.00" height="4.40"/>
<rect x="275.00" y="879.16" width="13.00" height="4.40"/>
<rect x="275.00" y="870.00" width="13.00" height="4.40"/>
<rect x="275.00" y="862.06" width="13.00" height="4.40"/>
<rect x="275.00" y="855.06" width="13.00" height="4.40"/>
<rect x="275.00" y="848.80" width="13.00" height="4.40"/>
<rect x="275.00" y="807.61" width="13.00" height="4.40"/>
<rect x="275.00" y="783.51" width="13.00" height="4.40"/>
<rect x="275.00" y="766.41" width="13.00" height="4.40"/>
<rect x="275.00" y="753.15" width="13.00" height="4.40"/>
<rect x="275.00" y="742.32" width="13.00" height="4.40"/>
<rect x="275.00" y="733.16" width="13.00" height="4.40"/>
<rect x="275.00" y="725.22" width="13.00" height="4.40"/>
<rect x="275.00" y="718.22" width="13.00" height="4.40"/>
<rect x="275.00" y="711.96" width="13.00" height="4.40"/>
<rect x="275.00" y="670.77" width="13.00" height="4.40"/>
<rect x="275.00" y="646.67" width="13.00" height="4.40"/>
<rect x="275.00" y="629.57" width="13.00" height="4.40"/>
<rect x="275.00" y="616.31" width="13.00" height="4.40"/>
<rect x="275.00" y="605.48" width="13.00" height="4.40"/>
<rect x="275.00" y="596.32" width="13.00" height="4.40"/>
<rect x="275.00" y="588.38" width="13.00" height="4.40"/>
<rect x="275.00" y="581.38" width="13.00" height="4.40"/>
<rect x="275.00" y="575.12" width="13.00" height="4.40"/>
<rect x="275.00" y="533.93" width="13.00" height="4.40"/>
<rect x="275.00" y="509.83" width="13.00" height="4.40"/>
<rect x="275.00" y="492.73" width="13.00" height="4.40"/>
<rect x="275.00" y="479.47" width="13.00" height="4.40"/>
<rect x="275.00" y="468.64" width="13.00" height="4.40"/>
<rect x="275.00" y="459.48" width="13.00" height="4.40"/>
<rect x="275.00" y="451.54" width="13.00" height="4.40"/>
<rect x="275.00" y="444.54" width="13.00" height="4.40"/>
<rect x="275.00" y="438.28" width="13.00" height="4.40"/>
<rect x="275.00" y="397.09" width="13.00" height="4.40"/>
<rect x="275.00" y="372.99" width="13.00" height="4.40"/>
<rect x="275.00" y="355.89" width="13.00" height="4.40"/>
<rect x="275.00" y="342.63" width="13.00" height="4.40"/>
<rect x="275.00" y="331.80" width="13.00" height="4.40"/>
<rect x="275.00" y="322.64" width="13.00" height="4.40"/>
<rect x="275.00" y="314.70" width="13.00" height="4.40"/>
<rect x="275.00" y="307.70" width="13.00" height="4.40"/>
<rect x="275.00" y="301.44" width="13.00" height="4.40"/>
<rect x="275.00" y="260.25" width="13.00" height="4.40"/>
<rect x="275.00" y="236.15" width="13.00" height="4.40"/>
<rect x="275.00" y="219.05" width="13.00" height="4.40"/>
<rect x="275.00" y="205.79" width="13.00" height="4.40"/>
<rect x="275.00" y="194.96" width="13.00" height="4.40"/>
<rect x="275.00" y="185.80" width="13.00" height="4.40"/>
<rect x="275.00" y="177.86" width="13.00" height="4.40"/>
<rect x="275.00" y="170.86" width="13.00" height="4.40"/>
<rect x="275.00" y="164.60" width="13.00" height="4.40"/>
<rect x="275.00" y="123.41" width="13.00" height="4.40"/>
<rect x="275.00" y="99.31" width="13.00" height="4.40"/>
<rect x="275.00" y="82.21" width="13.00" height="4.40"/>
<rect x="275.00" y="68.95" width="13.00" height="4.40"/>
<rect x="275.00" y="58.12" width="13.00" height="4.40"/>
<rect x="275.00" y="48.96" width="13.00" height="4.40"/>
</g>
<g id="labels">
<text transform="translate(125.51,191.55) scale(1.0350,0.9836)" font-size="73">1</text>
<text transform="translate(164.38,191.94) scale(0.9955,1.0008)" font-size="73">0</text>
<text transform="translate(200.20,163.83) scale(1.1630,0.9055)" font-size="51">−</text>
<text transform="translate(232.66,161.55) scale(1.0248,0.9891)" font-size="51">1</text>
<text transform="translate(125.51,465.23) scale(1.0350,0.9836)" font-size="73">1</text>
<text transform="translate(164.38,465.62) scale(0.9955,1.0008)" font-size="73">0</text>
<text transform="translate(200.20,437.51) scale(1.1630,0.9055)" font-size="51">−</text>
<text transform="translate(234.89,435.44) scale(0.9683,0.9922)" font-size="51">3</text>
<text transform="translate(125.51,738.91) scale(1.0350,0.9836)" font-size="73">1</text>
<text transform="translate(164.38,739.30) scale(0.9955,1.0008)" font-size="73">0</text>
<text transform="translate(200.20,711.19) scale(1.1630,0.9055)" font-size="51">−</text>
<text transform="translate(234.31,709.11) scale(0.9930,1.0032)" font-size="51">5</text>
<text transform="translate(125.51,1012.59) scale(1.0350,0.9836)" font-size="73">1</text>
<text transform="translate(164.38,1012.98) scale(0.9955,1.0008)" font-size="73">0</text>
<text transform="translate(200.20,984.87) scale(1.1630,0.9055)" font-size="51">−</text>
<text transform="translate(233.93,982.59) scale(0.9870,0.9972)" font-size="51">7</text>
<text transform="translate(455.51,1146.55) scale(1.0350,0.9815)" font-size="73">1</text>
<text transform="translate(495.51,1146.94) scale(0.9858,0.9988)" font-size="73">0</text>
<text transform="translate(531.20,1119.65) scale(1.1630,0.9449)" font-size="51">−</text>
<text transform="translate(564.79,1116.36) scale(0.9683,0.9806)" font-size="51">3</text>
<text transform="translate(707.41,1146.55) scale(1.0350,0.9815)" font-size="73">1</text>
<text transform="translate(747.41,1146.94) scale(0.9858,0.9988)" font-size="73">0</text>
<text transform="translate(783.10,1119.65) scale(1.1630,0.9449)" font-size="51">−</text>
<text transform="translate(816.79,1116.65) scale(1.0076,0.9891)" font-size="51">2</text>
<text transform="translate(959.31,1146.55) scale(1.0350,0.9815)" font-size="73">1</text>
<text transform="translate(999.31,1146.94) scale(0.9858,0.9988)" font-size="73">0</text>
<text transform="translate(1035.00,1119.65) scale(1.1630,0.9449)" font-size="51">−</text>
<text transform="translate(1066.36,1116.65) scale(1.0248,0.9920)" font-size="51">1</text>
<text transform="translate(1261.51,1143.55) scale(1.0350,0.9794)" font-size="73">1</text>
<text transform="translate(1494.51,1143.55) scale(1.0350,0.9815)" font-size="73">1</text>
<text transform="translate(1534.51,1143.94) scale(0.9858,0.9988)" font-size="73">0</text>
<text transform="translate(1731.61,1146.55) scale(1.0350,0.9815)" font-size="73">1</text>
<text transform="translate(1771.61,1146.94) scale(0.9858,0.9988)" font-size="73">0</text>
<text transform="translate(1805.99,1116.65) scale(1.0076,0.9891)" font-size="51">2</text>
<text transform="translate(973.49,1254.00) scale(1.1040,0.9720)" font-size="82" font-style="italic" stroke="none">k</text>
<text transform="translate(1014.90,1266.52) scale(1.0113,1.0253)" font-size="58" font-style="italic" stroke="none">c</text>
<text transform="translate(1068.78,1255.68) scale(0.9475,1.0093)" font-size="82">[</text>
<text transform="translate(1092.58,1254.10) scale(1.1551,1.0430)" font-size="82" font-style="italic" stroke="none">m</text>
<text transform="translate(1160.67,1266.45) scale(0.9447,0.9453)" font-size="58">P</text>
<text transform="translate(1192.01,1266.45) scale(0.9788,0.9666)" font-size="58">l</text>
<text transform="translate(1211.04,1255.68) scale(0.8818,1.0093)" font-size="82">]</text>
<text transform="translate(89.10,671.68) rotate(-90) scale(0.9433,0.9499)" font-size="82" font-style="italic" stroke="none">P</text>
<text transform="translate(104.00,623.55) rotate(-90) scale(0.9345,0.9795)" font-size="58" font-style="italic" stroke="none">T</text>
<text transform="translate(87.59,567.14) rotate(-90) scale(0.9401,0.9199)" font-size="82">(</text>
<text transform="translate(89.80,541.40) rotate(-90) scale(1.1012,0.9649)" font-size="82" font-style="italic" stroke="none">k</text>
<text transform="translate(103.43,499.98) rotate(-90) scale(0.9985,1.0073)" font-size="58" font-style="italic" stroke="none">c</text>
<text transform="translate(87.59,468.07) rotate(-90) scale(0.9544,0.9199)" font-size="82">)</text>
</g>
</svg></body></html>
